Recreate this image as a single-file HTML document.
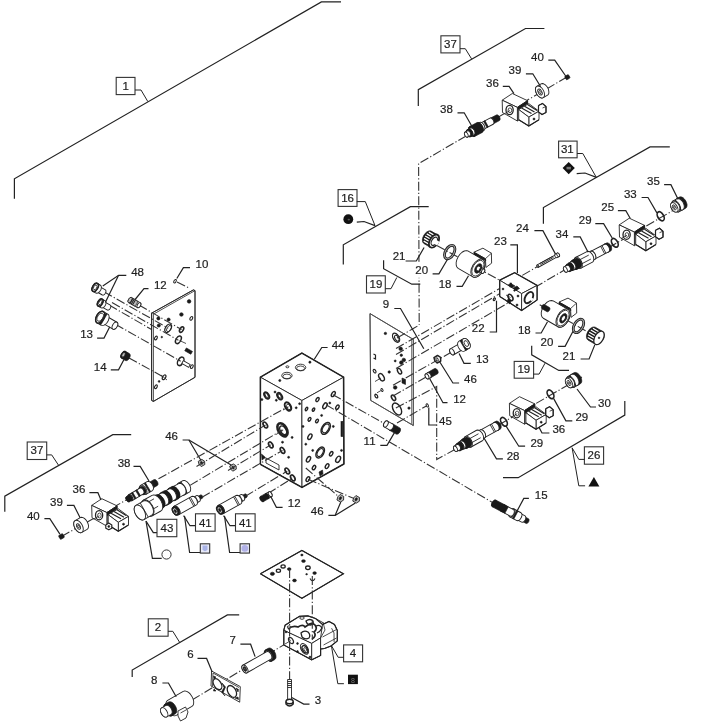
<!DOCTYPE html>
<html><head><meta charset="utf-8">
<style>
html,body{margin:0;padding:0;background:#fff;width:709px;height:728px;overflow:hidden}
svg{display:block;will-change:transform}
.l{fill:none;stroke:#222;stroke-width:1.2;stroke-linejoin:miter}
.b{fill:#fff;stroke:#333;stroke-width:1.1}
.d{fill:none;stroke:#333;stroke-width:1.1;stroke-dasharray:9 2.2 1.2 2.2}
.t{font-family:"Liberation Sans",sans-serif;font-size:11.5px;fill:#1e1e1e;stroke:#1e1e1e;stroke-width:0.2;text-anchor:middle}
.p{fill:#fff;stroke:#222;stroke-width:0.9;stroke-linejoin:round}
.g{fill:#bbb;stroke:#222;stroke-width:0.8}
.k{fill:#1a1a1a;stroke:#1a1a1a;stroke-width:0.6}
.n{fill:none;stroke:#222;stroke-width:0.8}
</style></head><body>
<svg width="709" height="728" viewBox="0 0 709 728">
<polyline class="d" points="567,77 418.6,163.7 419.2,325.1"/>
<polyline class="d" points="109.1,305.1 151.6,329.5"/>
<polyline class="d" points="61.5,536.5 128,499"/>
<polyline class="d" points="608.4,247.8 686,203"/>
<polyline class="d" points="436.8,245.4 500.3,280.6"/>
<polyline class="d" points="539.7,304.7 600,339"/>
<polyline class="d" points="498.2,425.2 582,377"/>
<polyline class="d" points="192,700 291,640.5"/>
<rect x="119.6" y="77.9" width="12.4" height="16" fill="#fff"/><rect x="441.1" y="35.8" width="18.8" height="16" fill="#fff"/><rect x="338.2" y="189.7" width="18.8" height="16" fill="#fff"/><rect x="557.9" y="140.9" width="18.8" height="16" fill="#fff"/><rect x="366.6" y="275.3" width="18.8" height="16" fill="#fff"/><rect x="514.4" y="361" width="18.8" height="16" fill="#fff"/><rect x="584.5" y="447" width="18.8" height="16" fill="#fff"/><rect x="27.5" y="442" width="18.8" height="16" fill="#fff"/><rect x="157.5" y="520" width="18.8" height="16" fill="#fff"/><rect x="195.9" y="514.5" width="18.8" height="16" fill="#fff"/><rect x="235.9" y="514.5" width="18.8" height="16" fill="#fff"/><rect x="151.8" y="619" width="12.4" height="16" fill="#fff"/><rect x="346.7" y="644.9" width="12.4" height="16" fill="#fff"/><rect x="528" y="48.3" width="18.8" height="16" fill="#fff"/><rect x="505.6" y="61.7" width="18.8" height="16" fill="#fff"/><rect x="483.1" y="74.3" width="18.8" height="16" fill="#fff"/><rect x="437.1" y="100.6" width="18.8" height="16" fill="#fff"/><rect x="644" y="172.5" width="18.8" height="16" fill="#fff"/><rect x="620.9" y="185.2" width="18.8" height="16" fill="#fff"/><rect x="598.3" y="198.4" width="18.8" height="16" fill="#fff"/><rect x="575.8" y="212" width="18.8" height="16" fill="#fff"/><rect x="513.1" y="219.9" width="18.8" height="16" fill="#fff"/><rect x="552.6" y="225.2" width="18.8" height="16" fill="#fff"/><rect x="491" y="232.7" width="18.8" height="16" fill="#fff"/><rect x="389.7" y="247.7" width="18.8" height="16" fill="#fff"/><rect x="412.3" y="261.8" width="18.8" height="16" fill="#fff"/><rect x="435.7" y="275.4" width="18.8" height="16" fill="#fff"/><rect x="468.8" y="319.5" width="18.8" height="16" fill="#fff"/><rect x="514.9" y="321.5" width="18.8" height="16" fill="#fff"/><rect x="537.6" y="334" width="18.8" height="16" fill="#fff"/><rect x="559.6" y="347.6" width="18.8" height="16" fill="#fff"/><rect x="472.9" y="351" width="18.8" height="16" fill="#fff"/><rect x="461.1" y="370.3" width="18.8" height="16" fill="#fff"/><rect x="450.2" y="390.5" width="18.8" height="16" fill="#fff"/><rect x="436" y="412.6" width="18.8" height="16" fill="#fff"/><rect x="595.1" y="394.9" width="18.8" height="16" fill="#fff"/><rect x="572.4" y="408.5" width="18.8" height="16" fill="#fff"/><rect x="549.4" y="421" width="18.8" height="16" fill="#fff"/><rect x="527.4" y="434.6" width="18.8" height="16" fill="#fff"/><rect x="503.7" y="447.4" width="18.8" height="16" fill="#fff"/><rect x="531.8" y="486.4" width="18.8" height="16" fill="#fff"/><rect x="379.8" y="296.1" width="12.4" height="16" fill="#fff"/><rect x="328.7" y="336.2" width="18.8" height="16" fill="#fff"/><rect x="360.2" y="432.7" width="18.8" height="16" fill="#fff"/><rect x="128.2" y="263.7" width="18.8" height="16" fill="#fff"/><rect x="192.6" y="255.3" width="18.8" height="16" fill="#fff"/><rect x="150.9" y="276.4" width="18.8" height="16" fill="#fff"/><rect x="77.2" y="325.3" width="18.8" height="16" fill="#fff"/><rect x="90.8" y="358.3" width="18.8" height="16" fill="#fff"/><rect x="162.2" y="427.8" width="18.8" height="16" fill="#fff"/><rect x="114.7" y="454.6" width="18.8" height="16" fill="#fff"/><rect x="69.6" y="480.8" width="18.8" height="16" fill="#fff"/><rect x="47" y="494.1" width="18.8" height="16" fill="#fff"/><rect x="23.9" y="507.6" width="18.8" height="16" fill="#fff"/><rect x="284.8" y="494.8" width="18.8" height="16" fill="#fff"/><rect x="307.8" y="503" width="18.8" height="16" fill="#fff"/><rect x="226.4" y="631.4" width="12.4" height="16" fill="#fff"/><rect x="184.2" y="646.1" width="12.4" height="16" fill="#fff"/><rect x="147.9" y="671.8" width="12.4" height="16" fill="#fff"/><rect x="311.8" y="691.9" width="12.4" height="16" fill="#fff"/><g transform="translate(567.4 77.2) rotate(-30)"><rect class="k" x="-2.2" y="-2" width="4.4" height="4" rx="1"/></g>
<polyline class="l" points="548.3,60.1 554.7,60.1 565.7,76"/>
<g transform="translate(540 92) rotate(-30)"><path class="p" d="M5,-6.5 L6.2,-6.2 L7.2,-5.3 L8,-3.8 L8.6,-2 L8.8,0 L8.6,2 L8,3.8 L7.2,5.3 L6.2,6.2 L5,6.5 L0,6.5 L-1.2,6.2 L-2.2,5.3 L-3,3.8 L-3.6,2 L-3.8,0 L-3.6,-2 L-3,-3.8 L-2.2,-5.3 L-1.2,-6.2 L-0,-6.5Z"/><ellipse class="p" cx="0" cy="0" rx="3.8" ry="6.5"/><ellipse class="p" cx="0" cy="0" rx="1.8" ry="3.2"/><ellipse class="n" cx="0" cy="0" rx="0.9" ry="1.6"/></g>
<polyline class="l" points="525.9,73.8 532.8,73.8 540.7,86.7"/>
<g transform="translate(466.3 134.6) rotate(-28)"><path class="k" d="M35.8,-3.2 L36.4,-3 L36.9,-2.6 L37.3,-1.9 L37.6,-1 L37.6,0 L37.6,1 L37.3,1.9 L36.9,2.6 L36.4,3 L35.8,3.2 L28.6,3.2 L28,3 L27.5,2.6 L27.1,1.9 L26.8,1 L26.8,0 L26.8,-1 L27.1,-1.9 L27.5,-2.6 L28,-3 L28.6,-3.2Z"/><ellipse class="k" cx="28.6" cy="0" rx="1.8" ry="3.2"/><path class="p" d="M28.6,-3.5 L29.2,-3.3 L29.8,-2.8 L30.2,-2.1 L30.5,-1.1 L30.6,0 L30.5,1.1 L30.2,2.1 L29.8,2.8 L29.2,3.3 L28.6,3.5 L17.5,3.5 L16.9,3.3 L16.3,2.8 L15.9,2.1 L15.6,1.1 L15.5,0 L15.6,-1.1 L15.9,-2.1 L16.3,-2.8 L16.9,-3.3 L17.5,-3.5Z"/><ellipse class="p" cx="17.5" cy="0" rx="2" ry="3.5"/><rect class="k" x="21.5" y="-3.5" width="1.6" height="7"/><path class="p" d="M17.5,-4.6 L18.3,-4.4 L19.1,-3.7 L19.6,-2.7 L20,-1.4 L20.2,0 L20,1.4 L19.6,2.7 L19.1,3.7 L18.3,4.4 L17.5,4.6 L15.1,4.6 L14.3,4.4 L13.5,3.7 L13,2.7 L12.6,1.4 L12.4,0 L12.6,-1.4 L13,-2.7 L13.5,-3.7 L14.3,-4.4 L15.1,-4.6Z"/><ellipse class="p" cx="15.1" cy="0" rx="2.7" ry="4.6"/><path class="k" d="M15.1,-5.6 L16.1,-5.3 L17,-4.5 L17.7,-3.3 L18.2,-1.7 L18.3,0 L18.2,1.7 L17.7,3.3 L17,4.5 L16.1,5.3 L15.1,5.6 L6.8,5.6 L5.8,5.3 L4.9,4.5 L4.2,3.3 L3.7,1.7 L3.6,0 L3.7,-1.7 L4.2,-3.3 L4.9,-4.5 L5.8,-5.3 L6.8,-5.6Z"/><ellipse class="k" cx="6.8" cy="0" rx="3.2" ry="5.6"/><path class="p" d="M6.8,-3.9 L7.5,-3.7 L8.1,-3.2 L8.6,-2.3 L8.9,-1.2 L9.1,0 L8.9,1.2 L8.6,2.3 L8.1,3.2 L7.5,3.7 L6.8,3.9 L4.4,3.9 L3.7,3.7 L3.1,3.2 L2.6,2.3 L2.3,1.2 L2.1,0 L2.3,-1.2 L2.6,-2.3 L3.1,-3.2 L3.7,-3.7 L4.4,-3.9Z"/><ellipse class="p" cx="4.4" cy="0" rx="2.3" ry="3.9"/><path class="k" d="M4.4,-3.9 L5.1,-3.7 L5.7,-3.2 L6.2,-2.3 L6.5,-1.2 L6.7,0 L6.5,1.2 L6.2,2.3 L5.7,3.2 L5.1,3.7 L4.4,3.9 L2.8,3.9 L2.1,3.7 L1.5,3.2 L1,2.3 L0.7,1.2 L0.5,0 L0.7,-1.2 L1,-2.3 L1.5,-3.2 L2.1,-3.7 L2.8,-3.9Z"/><ellipse class="k" cx="2.8" cy="0" rx="2.3" ry="3.9"/><path class="p" d="M2.8,-2.8 L3.3,-2.7 L3.7,-2.3 L4.1,-1.6 L4.3,-0.9 L4.4,0 L4.3,0.9 L4.1,1.6 L3.7,2.3 L3.3,2.7 L2.8,2.8 L0,2.8 L-0.5,2.7 L-0.9,2.3 L-1.3,1.6 L-1.5,0.9 L-1.6,0 L-1.5,-0.9 L-1.3,-1.6 L-0.9,-2.3 L-0.5,-2.7 L-0,-2.8Z"/><ellipse class="p" cx="0" cy="0" rx="1.6" ry="2.8"/></g>
<polyline class="l" points="457.5,112.8 464.2,112.8 471.9,126.2"/>
<polygon class="p" points="502.2,100.2 512.3,93.5 527.6,100.7 517.4,107.4"/>
<polygon class="g" points="517.4,107.4 527.6,100.7 527.6,114 517.4,121"/>
<polygon class="k" points="517.4,107.4 527.6,100.7 527.6,103.5 517.4,110.5"/>
<polygon class="p" points="502.2,100.2 517.4,107.4 517.4,121 502.5,112.5"/>
<ellipse class="p" cx="509.6" cy="110" rx="3.6" ry="4.6" style="stroke-width:1.3"/>
<ellipse class="n" cx="509.9" cy="110.3" rx="1.8" ry="2.4"/>
<polyline class="n" points="510,110.5 504,114"/>
<polygon class="p" points="518.7,109.5 528.8,103.6 539,111.2 528.8,117.1"/>
<polyline class="l" points="521.5,108 531.5,113.5"/>
<polyline class="l" points="524.5,106.2 534.5,112"/>
<polyline class="l" points="527.5,104.6 537,110.5"/>
<polygon class="p" points="528.8,117.1 539,111.2 539,119.7 528.8,126"/>
<polygon class="p" points="518.7,109.5 528.8,117.1 528.8,126 518.7,119.7"/>
<polyline class="l" points="518.7,119.7 528.8,126 539,119.7"/>
<circle class="k" cx="534" cy="119" r="1"/>
<polygon class="p" points="538.5,105.5 542.5,103.5 546,106.5 546,112.5 542,114.5 538.5,112"/>
<polyline class="l" points="538.5,105.5 542.5,103.5 546,106.5 546,112.5 542,114.5 538.5,112 538.5,105.5"/>
<polyline class="n" points="542.5,108 546,106.5"/>
<polyline class="l" points="502.8,86.3 509.1,86.3 514,93.6"/>
<polygon class="p" points="301.9,353 343.6,377.2 301.9,400.5 260.4,377.2"/>
<polygon class="p" points="260.4,377.2 301.9,400.5 302,487.3 260.5,464.3"/>
<polygon class="p" points="301.9,400.5 343.6,377.2 343.9,464 302,487.3"/>
<polyline class="l" points="260.4,464.3 260.4,377.2 301.9,353 343.6,377.2 343.9,464 302,487.3 260.4,464.3" style="stroke-width:1.5"/>
<ellipse class="p" cx="300.6" cy="367.5" rx="5.2" ry="3.3"/>
<ellipse class="n" cx="300.6" cy="368.3" rx="4" ry="2.3"/>
<ellipse class="p" cx="286.9" cy="375.6" rx="5.2" ry="3.3"/>
<ellipse class="n" cx="286.9" cy="376.4" rx="4" ry="2.3"/>
<ellipse class="p" cx="287.4" cy="366.8" rx="1.5" ry="1"/>
<circle class="k" cx="309.9" cy="362.2" r="1.1"/>
<circle class="k" cx="279.8" cy="380.5" r="1.1"/>
<ellipse class="p" cx="0" cy="0" rx="2.1" ry="3.6" transform="translate(266.7 395.5) rotate(-30)" style="stroke-width:1.9"/>
<ellipse class="n" cx="0" cy="0" rx="1.2" ry="2.2" transform="translate(266.7 395.5) rotate(-30)"/>
<ellipse class="p" cx="0" cy="0" rx="2.1" ry="3.6" transform="translate(279.7 396.2) rotate(-30)" style="stroke-width:1.9"/>
<ellipse class="n" cx="0" cy="0" rx="1.2" ry="2.2" transform="translate(279.7 396.2) rotate(-30)"/>
<ellipse class="p" cx="0" cy="0" rx="2.7" ry="4.6" transform="translate(288 406.5) rotate(-30)" style="stroke-width:2.0"/>
<ellipse class="n" cx="0" cy="0" rx="1.7" ry="3" transform="translate(288.6 406.9) rotate(-30)"/>
<polyline class="n" points="288.6,406.9 283,410"/>
<ellipse class="p" cx="0" cy="0" rx="4.2" ry="7.2" transform="translate(282.5 429.8) rotate(-30)" style="stroke-width:2.6"/>
<ellipse class="n" cx="0" cy="0" rx="2.8" ry="4.8" transform="translate(283.2 430.3) rotate(-30)" style="stroke-width:1.4"/>
<polyline class="n" points="283.2,430.3 276,434.5"/>
<ellipse class="p" cx="0" cy="0" rx="1.8" ry="3.2" transform="translate(265.3 425) rotate(-30)" style="stroke-width:1.7"/>
<ellipse class="p" cx="0" cy="0" rx="1.8" ry="3.2" transform="translate(270.8 444.9) rotate(-30)" style="stroke-width:1.7"/>
<ellipse class="p" cx="0" cy="0" rx="1.8" ry="3.2" transform="translate(282.5 450.4) rotate(-30)" style="stroke-width:1.7"/>
<ellipse class="p" cx="0" cy="0" rx="1.8" ry="3.2" transform="translate(287.3 471) rotate(-30)" style="stroke-width:1.7"/>
<ellipse class="p" cx="0" cy="0" rx="1.8" ry="3.2" transform="translate(292.8 477.9) rotate(-30)" style="stroke-width:1.7"/>
<polygon class="k" points="261.5,454 265.5,457.5 262,460"/>
<polygon class="p" points="266,458 279,465 279,470 266,463"/>
<circle class="k" cx="276.3" cy="400.3" r="1"/>
<circle class="k" cx="296.2" cy="407.8" r="1"/>
<circle class="k" cx="299.6" cy="403.7" r="1"/>
<circle class="k" cx="292.1" cy="437.4" r="1"/>
<circle class="k" cx="282.5" cy="442.2" r="1"/>
<circle class="k" cx="288.6" cy="457.3" r="1"/>
<circle class="k" cx="261.9" cy="399.6" r="1"/>
<circle class="k" cx="275" cy="392" r="1"/>
<ellipse class="p" cx="0" cy="0" rx="1.6" ry="2.8" transform="translate(333.3 394.1) rotate(30)" style="stroke-width:1.4"/>
<ellipse class="p" cx="0" cy="0" rx="1.8" ry="3.2" transform="translate(325 405.8) rotate(30)" style="stroke-width:1.4"/>
<ellipse class="p" cx="0" cy="0" rx="1.4" ry="2.4" transform="translate(337.4 407.2) rotate(30)" style="stroke-width:1.4"/>
<ellipse class="p" cx="0" cy="0" rx="1.3" ry="2.2" transform="translate(317.5 399.6) rotate(30)" style="stroke-width:1.4"/>
<ellipse class="p" cx="0" cy="0" rx="1" ry="1.8" transform="translate(306.5 409) rotate(30)" style="stroke-width:1.4"/>
<ellipse class="p" cx="0" cy="0" rx="1" ry="1.8" transform="translate(313.5 409.6) rotate(30)" style="stroke-width:1.4"/>
<ellipse class="p" cx="0" cy="0" rx="1.2" ry="2" transform="translate(309.5 419.3) rotate(30)" style="stroke-width:1.4"/>
<ellipse class="p" cx="0" cy="0" rx="1.2" ry="2" transform="translate(317 421) rotate(30)" style="stroke-width:1.4"/>
<ellipse class="p" cx="0" cy="0" rx="1.7" ry="3" transform="translate(309.9 436.7) rotate(30)" style="stroke-width:1.4"/>
<ellipse class="p" cx="0" cy="0" rx="1.4" ry="2.4" transform="translate(331.2 453.8) rotate(30)" style="stroke-width:1.4"/>
<ellipse class="p" cx="0" cy="0" rx="2" ry="3.4" transform="translate(338.1 459.3) rotate(30)" style="stroke-width:1.4"/>
<ellipse class="p" cx="0" cy="0" rx="1.5" ry="2.6" transform="translate(327.1 466.2) rotate(30)" style="stroke-width:1.4"/>
<ellipse class="p" cx="0" cy="0" rx="1.7" ry="3" transform="translate(308.5 459.3) rotate(30)" style="stroke-width:1.4"/>
<ellipse class="p" cx="0" cy="0" rx="1.4" ry="2.4" transform="translate(314 467.6) rotate(30)" style="stroke-width:1.4"/>
<ellipse class="p" cx="0" cy="0" rx="1.5" ry="2.6" transform="translate(307.9 479.2) rotate(30)" style="stroke-width:1.4"/>
<ellipse class="p" cx="0" cy="0" rx="3.8" ry="6.5" transform="translate(325.7 428.4) rotate(30)" style="stroke-width:1.5"/>
<ellipse class="n" cx="0" cy="0" rx="2.8" ry="4.8" transform="translate(325.7 428.4) rotate(30)" style="stroke-width:1.1"/>
<ellipse class="p" cx="0" cy="0" rx="3.5" ry="6" transform="translate(320.2 452.5) rotate(30)" style="stroke-width:1.5"/>
<ellipse class="n" cx="0" cy="0" rx="2.5" ry="4.4" transform="translate(320.2 452.5) rotate(30)" style="stroke-width:1.1"/>
<rect class="k" x="341" y="421.6" width="1.8" height="15"/>
<polygon class="k" points="319,472 322.5,470 323,474 320,476"/>
<circle class="k" cx="305.8" cy="444.2" r="1"/>
<circle class="k" cx="312.7" cy="450.4" r="1"/>
<circle class="k" cx="321.6" cy="415.4" r="1"/>
<circle class="k" cx="333.3" cy="426.4" r="1"/>
<circle class="k" cx="329.8" cy="403" r="1"/>
<circle class="k" cx="341.5" cy="450.4" r="1"/>
<circle class="k" cx="303" cy="426.4" r="1"/>
<polygon class="p" points="151.6,313.2 193.4,289.9 195,290.6 195,377.3 153.4,401.4 151.6,400.4"/>
<polyline class="n" points="153.4,314.2 195,290.6"/>
<polyline class="n" points="153.4,314.2 153.4,401.4"/>
<polyline class="n" points="151.6,313.2 193.4,289.9 195,290.6 195,377.3 153.4,401.4 151.6,400.4 151.6,313.2"/>
<circle class="k" cx="189.1" cy="301.4" r="1.8"/>
<circle class="k" cx="181.4" cy="314.5" r="1.8"/>
<circle class="k" cx="158.4" cy="318.4" r="1.6"/>
<circle class="k" cx="168.6" cy="319.6" r="1.6"/>
<circle class="k" cx="158.8" cy="325.5" r="1.6"/>
<circle class="k" cx="161.8" cy="337.1" r="0.8"/>
<circle class="k" cx="159.1" cy="381.4" r="0.9"/>
<ellipse class="p" cx="0" cy="0" rx="2.7" ry="4.6" transform="translate(168.2 328.2) rotate(30)" style="stroke-width:1.2"/>
<ellipse class="n" cx="0" cy="0" rx="2" ry="3.4" transform="translate(169 328.6) rotate(30)"/>
<ellipse class="p" cx="0" cy="0" rx="1.7" ry="3" transform="translate(181.6 329.6) rotate(30)" style="stroke-width:1.6"/>
<ellipse class="p" cx="0" cy="0" rx="2.4" ry="4.2" transform="translate(178.4 339.8) rotate(30)" style="stroke-width:1.4"/>
<polyline class="n" points="179.5,340.5 186,343.5"/>
<ellipse class="p" cx="0" cy="0" rx="1.2" ry="2" transform="translate(191.3 318.4) rotate(30)" style="stroke-width:1.1"/>
<ellipse class="p" cx="0" cy="0" rx="1.2" ry="2" transform="translate(155.9 338) rotate(30)" style="stroke-width:1.1"/>
<g transform="translate(188.6 351.1) rotate(30)"><rect class="k" x="-3.5" y="-1.6" width="7" height="3.2"/></g>
<ellipse class="p" cx="0" cy="0" rx="2.7" ry="4.6" transform="translate(180.7 361.3) rotate(30)" style="stroke-width:1.5"/>
<g transform="translate(186 364) rotate(30)"><rect class="p" x="-4" y="-1.6" width="8" height="3.2"/></g>
<ellipse class="p" cx="0" cy="0" rx="1.2" ry="2" transform="translate(191.8 366.6) rotate(30)" style="stroke-width:1.1"/>
<ellipse class="p" cx="0" cy="0" rx="1.5" ry="2.6" transform="translate(164.1 377.3) rotate(30)" style="stroke-width:1.2"/>
<polyline class="n" points="161,375 167,380"/>
<ellipse class="p" cx="0" cy="0" rx="1.2" ry="2" transform="translate(155.9 386.8) rotate(30)" style="stroke-width:1.1"/>
<polygon class="p" points="370,313.6 411.6,338.4 413.3,339.4 413.3,425.5 411.6,424.5 370.7,400.4"/>
<polyline class="n" points="411.6,338.4 411.6,424.5" style="stroke:#555"/>
<polyline class="n" points="370,313.6 411.6,338.4 413.3,339.4 413.3,425.5 411.6,424.5 370.7,400.4 370,313.6" style="stroke:#555"/>
<circle class="k" cx="385.4" cy="333.4" r="1.2"/>
<circle class="k" cx="400.7" cy="348.8" r="1.8"/>
<circle class="k" cx="401.3" cy="355.2" r="1.2"/>
<circle class="k" cx="395.2" cy="360.9" r="1"/>
<circle class="k" cx="401.3" cy="362.6" r="1.8"/>
<circle class="k" cx="403.8" cy="360" r="1.8"/>
<circle class="k" cx="389.2" cy="372" r="1.2"/>
<circle class="k" cx="395.2" cy="387.5" r="1.8"/>
<circle class="k" cx="409" cy="408.1" r="1.2"/>
<ellipse class="p" cx="0" cy="0" rx="2.9" ry="5" transform="translate(396.1 337.7) rotate(-30)" style="stroke-width:1.3"/>
<ellipse class="p" cx="0" cy="0" rx="1.8" ry="3.2" transform="translate(396.8 338.2) rotate(-30)" style="stroke-width:1.0"/>
<polyline class="l" points="373.5,354 375.5,355 375.5,359 373.5,358"/>
<ellipse class="p" cx="0" cy="0" rx="1.2" ry="2" transform="translate(374.6 371.2) rotate(-30)" style="stroke-width:1.1"/>
<ellipse class="p" cx="0" cy="0" rx="1.7" ry="3" transform="translate(399.5 371.2) rotate(-30)" style="stroke-width:1.4"/>
<ellipse class="p" cx="0" cy="0" rx="2.3" ry="4" transform="translate(381.5 377.2) rotate(-30)" style="stroke-width:1.4"/>
<polyline class="n" points="381,378 375,381.5"/>
<polygon class="k" points="402,378 405.5,379.5 405.5,384.5 402,383"/>
<polyline class="n" points="381.8,390.1 377,392.8"/>
<ellipse class="p" cx="0" cy="0" rx="0.9" ry="1.6" transform="translate(382 390) rotate(-30)"/>
<ellipse class="p" cx="0" cy="0" rx="1.2" ry="2" transform="translate(376.3 396.1) rotate(-30)" style="stroke-width:1.3"/>
<ellipse class="p" cx="0" cy="0" rx="1.7" ry="3" transform="translate(393.5 397.8) rotate(-30)" style="stroke-width:1.6"/>
<ellipse class="p" cx="0" cy="0" rx="3.8" ry="6.6" transform="translate(397 409) rotate(-30)" style="stroke-width:1.4"/>
<polyline class="d" points="104,291.8 168.2,328.2"/>
<polyline class="d" points="112,302.5 178.4,340.3"/>
<polyline class="d" points="139,305.1 181.6,329.6"/>
<polyline class="d" points="115.5,324.2 180.7,361.3"/>
<polyline class="d" points="129,358 164.1,377.3"/>
<polyline class="d" points="177,282 190,288.5"/>
<g transform="translate(95.2 287.4) rotate(30)"><path class="p" d="M10,-3 L10.5,-2.9 L11,-2.4 L11.4,-1.8 L11.6,-0.9 L11.7,0 L11.6,0.9 L11.4,1.8 L11,2.4 L10.5,2.9 L10,3 L3,3 L2.5,2.9 L2,2.4 L1.6,1.8 L1.4,0.9 L1.3,0 L1.4,-0.9 L1.6,-1.8 L2,-2.4 L2.5,-2.9 L3,-3Z"/><ellipse class="p" cx="3" cy="0" rx="1.7" ry="3"/><path class="p" d="M3.5,-4.5 L4.3,-4.3 L5,-3.6 L5.6,-2.6 L6,-1.4 L6.1,0 L6,1.4 L5.6,2.6 L5,3.6 L4.3,4.3 L3.5,4.5 L0,4.5 L-0.8,4.3 L-1.5,3.6 L-2.1,2.6 L-2.5,1.4 L-2.6,0 L-2.5,-1.4 L-2.1,-2.6 L-1.5,-3.6 L-0.8,-4.3 L-0,-4.5Z"/><ellipse class="p" cx="0" cy="0" rx="2.6" ry="4.5"/><ellipse class="n" cx="0" cy="0" rx="2.6" ry="4.5" style="stroke-width:1.6"/><ellipse class="n" cx="0" cy="0" rx="1.5" ry="2.6"/></g>
<g transform="translate(100.2 302.6) rotate(30)"><path class="p" d="M10,-2.8 L10.5,-2.7 L10.9,-2.3 L11.3,-1.6 L11.5,-0.9 L11.6,0 L11.5,0.9 L11.3,1.6 L10.9,2.3 L10.5,2.7 L10,2.8 L3,2.8 L2.5,2.7 L2.1,2.3 L1.7,1.6 L1.5,0.9 L1.4,0 L1.5,-0.9 L1.7,-1.6 L2.1,-2.3 L2.5,-2.7 L3,-2.8Z"/><ellipse class="p" cx="3" cy="0" rx="1.6" ry="2.8"/><path class="p" d="M3.5,-4 L4.2,-3.8 L4.9,-3.2 L5.4,-2.4 L5.7,-1.2 L5.8,0 L5.7,1.2 L5.4,2.4 L4.9,3.2 L4.2,3.8 L3.5,4 L0,4 L-0.7,3.8 L-1.4,3.2 L-1.9,2.4 L-2.2,1.2 L-2.3,0 L-2.2,-1.2 L-1.9,-2.4 L-1.4,-3.2 L-0.7,-3.8 L-0,-4Z"/><ellipse class="p" cx="0" cy="0" rx="2.3" ry="4"/><ellipse class="n" cx="0" cy="0" rx="2.3" ry="4" style="stroke-width:1.6"/><ellipse class="n" cx="0" cy="0" rx="1.3" ry="2.3"/></g>
<polyline class="l" points="126.3,275.3 118.6,275.3 102.8,286.1"/>
<polyline class="l" points="118.6,275.3 105.3,302.6"/>
<g transform="translate(100.2 317.2) rotate(30)"><path class="p" d="M17,-4 L17.7,-3.8 L18.4,-3.2 L18.9,-2.4 L19.2,-1.2 L19.3,0 L19.2,1.2 L18.9,2.4 L18.4,3.2 L17.7,3.8 L17,4 L5,4 L4.3,3.8 L3.6,3.2 L3.1,2.4 L2.8,1.2 L2.7,0 L2.8,-1.2 L3.1,-2.4 L3.6,-3.2 L4.3,-3.8 L5,-4Z"/><path class="p" d="M5,-6.5 L6.2,-6.2 L7.2,-5.3 L8,-3.8 L8.6,-2 L8.8,0 L8.6,2 L8,3.8 L7.2,5.3 L6.2,6.2 L5,6.5 L0,6.5 L-1.2,6.2 L-2.2,5.3 L-3,3.8 L-3.6,2 L-3.8,0 L-3.6,-2 L-3,-3.8 L-2.2,-5.3 L-1.2,-6.2 L-0,-6.5Z"/><ellipse class="p" cx="0" cy="0" rx="3.8" ry="6.5"/><path class="k" d="M2.8,-6.2 L4.4,-6.2 L4.4,6.2 L2.8,6.2Z"/><ellipse class="n" cx="0" cy="0" rx="3.75" ry="6.5" style="stroke-width:1.5"/><ellipse class="n" cx="0" cy="0" rx="2.6" ry="4.5"/><ellipse class="p" cx="17" cy="0" rx="2.3" ry="4"/></g>
<polyline class="l" points="97.1,338.1 104,338.1 109.8,326.7"/>
<g transform="translate(130.1 300.1) rotate(30)"><path class="p" d="M10.2,-2.8 L10.7,-2.7 L11.1,-2.3 L11.5,-1.6 L11.7,-0.9 L11.8,0 L11.7,0.9 L11.5,1.6 L11.1,2.3 L10.7,2.7 L10.2,2.8 L6,2.8 L5.5,2.7 L5.1,2.3 L4.7,1.6 L4.5,0.9 L4.4,0 L4.5,-0.9 L4.7,-1.6 L5.1,-2.3 L5.5,-2.7 L6,-2.8Z"/><ellipse class="p" cx="10.2" cy="0" rx="1.6" ry="2.8"/><path class="g" d="M6,-3 L6.5,-2.9 L7,-2.4 L7.4,-1.8 L7.6,-0.9 L7.7,0 L7.6,0.9 L7.4,1.8 L7,2.4 L6.5,2.9 L6,3 L0,3 L-0.5,2.9 L-1,2.4 L-1.4,1.8 L-1.6,0.9 L-1.7,0 L-1.6,-0.9 L-1.4,-1.8 L-1,-2.4 L-0.5,-2.9 L-0,-3Z"/><ellipse class="g" cx="0" cy="0" rx="1.7" ry="3"/><path class="n" d="M1.5,-3 L1.5,3 M3,-3 L3,3 M4.5,-3 L4.5,3" style="stroke-width:1"/></g>
<polyline class="l" points="148.5,288.6 144,288.6 135.1,299.5"/>
<g transform="translate(123.5 354.8) rotate(30)"><path class="k" d="M4.5,-4 L5.2,-3.8 L5.9,-3.2 L6.4,-2.4 L6.7,-1.2 L6.8,0 L6.7,1.2 L6.4,2.4 L5.9,3.2 L5.2,3.8 L4.5,4 L0,4 L-0.7,3.8 L-1.4,3.2 L-1.9,2.4 L-2.2,1.2 L-2.3,0 L-2.2,-1.2 L-1.9,-2.4 L-1.4,-3.2 L-0.7,-3.8 L-0,-4Z"/><ellipse class="k" cx="0" cy="0" rx="2.3" ry="4"/><ellipse class="g" cx="0" cy="0" rx="1.4" ry="2.5"/></g>
<polyline class="l" points="110.8,369.9 118.5,369.9 124,359.5"/>
<ellipse class="p" cx="0" cy="0" rx="1.1" ry="1.9" transform="translate(175 281.2) rotate(30)" style="stroke-width:1.0"/>
<polyline class="l" points="190,267.6 183.4,267.6 176.8,278.5"/>
<g transform="translate(61.5 536.5) rotate(-30)"><rect class="k" x="-2.4" y="-2.2" width="4.8" height="4.4" rx="1"/></g>
<polyline class="l" points="44.4,518.6 49.8,518.6 59.9,534.1"/>
<g transform="translate(78.5 526.5) rotate(-30)"><path class="p" d="M6,-6.8 L7.2,-6.5 L8.3,-5.5 L9.2,-4 L9.7,-2.1 L9.9,0 L9.7,2.1 L9.2,4 L8.3,5.5 L7.2,6.5 L6,6.8 L0,6.8 L-1.2,6.5 L-2.3,5.5 L-3.2,4 L-3.7,2.1 L-3.9,0 L-3.7,-2.1 L-3.2,-4 L-2.3,-5.5 L-1.2,-6.5 L-0,-6.8Z"/><ellipse class="p" cx="0" cy="0" rx="3.9" ry="6.8"/><ellipse class="p" cx="0" cy="0" rx="1.7" ry="3"/><ellipse class="n" cx="0" cy="0" rx="0.8" ry="1.4"/></g>
<polyline class="l" points="66.9,505.4 73.9,505.4 80.1,517.8"/>
<polygon class="p" points="91.7,505.4 101.8,498.7 117.1,505.9 106.9,512.6"/>
<polygon class="g" points="106.9,512.6 117.1,505.9 117.1,519.2 106.9,526.2"/>
<polygon class="k" points="106.9,512.6 117.1,505.9 117.1,508.7 106.9,515.7"/>
<polygon class="p" points="91.7,505.4 106.9,512.6 106.9,526.2 92,517.7"/>
<ellipse class="p" cx="99.1" cy="515.2" rx="3.6" ry="4.6" style="stroke-width:1.3"/>
<ellipse class="n" cx="99.4" cy="515.5" rx="1.8" ry="2.4"/>
<polyline class="n" points="99.5,515.7 93.5,519.2"/>
<polygon class="p" points="108.2,514.7 118.3,508.8 128.5,516.4 118.3,522.3"/>
<polyline class="l" points="111,513.2 121,518.7"/>
<polyline class="l" points="114,511.4 124,517.2"/>
<polyline class="l" points="117,509.8 126.5,515.7"/>
<polygon class="p" points="118.3,522.3 128.5,516.4 128.5,524.9 118.3,531.2"/>
<polygon class="p" points="108.2,514.7 118.3,522.3 118.3,531.2 108.2,524.9"/>
<polyline class="l" points="108.2,524.9 118.3,531.2 128.5,524.9"/>
<circle class="k" cx="123.5" cy="524.2" r="1"/>
<g transform="translate(108.8 526.4)"><polygon class="p" points="-3,-1.5 0,-3.4 3,-1.5 3,1.8 0,3.4 -3,1.8" style="stroke-width:1.2"/><circle class="k" r="1"/></g>
<polyline class="l" points="89.4,492.7 97.9,492.7 101,500"/>
<g transform="translate(127.9 499.2) rotate(-31)"><path class="k" d="M32.3,-3.4 L32.9,-3.2 L33.5,-2.8 L33.9,-2 L34.2,-1.1 L34.3,0 L34.2,1.1 L33.9,2 L33.5,2.8 L32.9,3.2 L32.3,3.4 L25.5,3.4 L24.9,3.2 L24.3,2.8 L23.9,2 L23.6,1.1 L23.5,0 L23.6,-1.1 L23.9,-2 L24.3,-2.8 L24.9,-3.2 L25.5,-3.4Z"/><ellipse class="k" cx="25.5" cy="0" rx="2" ry="3.4"/><path class="p" d="M25.5,-5.2 L26.4,-4.9 L27.3,-4.2 L27.9,-3.1 L28.4,-1.6 L28.5,0 L28.4,1.6 L27.9,3.1 L27.3,4.2 L26.4,4.9 L25.5,5.2 L18,5.2 L17.1,4.9 L16.2,4.2 L15.6,3.1 L15.1,1.6 L15,0 L15.1,-1.6 L15.6,-3.1 L16.2,-4.2 L17.1,-4.9 L18,-5.2Z"/><ellipse class="p" cx="18" cy="0" rx="3" ry="5.2"/><rect class="k" x="22" y="-5" width="1.5" height="10"/><path class="k" d="M18,-4.2 L18.7,-4 L19.4,-3.4 L20,-2.5 L20.3,-1.3 L20.4,0 L20.3,1.3 L20,2.5 L19.4,3.4 L18.7,4 L18,4.2 L16,4.2 L15.3,4 L14.6,3.4 L14,2.5 L13.7,1.3 L13.6,0 L13.7,-1.3 L14,-2.5 L14.6,-3.4 L15.3,-4 L16,-4.2Z"/><ellipse class="k" cx="16" cy="0" rx="2.4" ry="4.2"/><path class="p" d="M16,-3.4 L16.6,-3.2 L17.2,-2.8 L17.6,-2 L17.9,-1.1 L18,0 L17.9,1.1 L17.6,2 L17.2,2.8 L16.6,3.2 L16,3.4 L3,3.4 L2.4,3.2 L1.8,2.8 L1.4,2 L1.1,1.1 L1,0 L1.1,-1.1 L1.4,-2 L1.8,-2.8 L2.4,-3.2 L3,-3.4Z"/><ellipse class="p" cx="3" cy="0" rx="2" ry="3.4"/><rect class="k" x="6" y="-3.4" width="1.6" height="6.8"/><rect class="k" x="11" y="-3.4" width="1.6" height="6.8"/><path class="k" d="M3,-3 L3.5,-2.9 L4,-2.4 L4.4,-1.8 L4.6,-0.9 L4.7,0 L4.6,0.9 L4.4,1.8 L4,2.4 L3.5,2.9 L3,3 L0,3 L-0.5,2.9 L-1,2.4 L-1.4,1.8 L-1.6,0.9 L-1.7,0 L-1.6,-0.9 L-1.4,-1.8 L-1,-2.4 L-0.5,-2.9 L-0,-3Z"/><ellipse class="k" cx="0" cy="0" rx="1.7" ry="3"/></g>
<polyline class="l" points="133.5,466.4 140.2,466.4 149,481"/>
<g transform="translate(139.9 512.5) rotate(-29.4)"><path class="p" d="M53,-6.6 L54.2,-6.3 L55.2,-5.3 L56.1,-3.9 L56.6,-2 L56.8,0 L56.6,2 L56.1,3.9 L55.2,5.3 L54.2,6.3 L53,6.6 L48,6.6 L46.8,6.3 L45.8,5.3 L44.9,3.9 L44.4,2 L44.2,0 L44.4,-2 L44.9,-3.9 L45.8,-5.3 L46.8,-6.3 L48,-6.6Z"/><ellipse class="p" cx="48" cy="0" rx="3.8" ry="6.6"/><path class="n" d="M50.5,-6.6 L50.5,6.6" style="stroke-width:1.4"/><path class="p" d="M48,-6.2 L49.1,-5.9 L50.1,-5 L50.9,-3.6 L51.4,-1.9 L51.6,0 L51.4,1.9 L50.9,3.6 L50.1,5 L49.1,5.9 L48,6.2 L40.5,6.2 L39.4,5.9 L38.4,5 L37.6,3.6 L37.1,1.9 L36.9,0 L37.1,-1.9 L37.6,-3.6 L38.4,-5 L39.4,-5.9 L40.5,-6.2Z"/><ellipse class="p" cx="40.5" cy="0" rx="3.6" ry="6.2"/><path class="k" d="M40.5,-6.9 L41.7,-6.6 L42.8,-5.6 L43.7,-4.1 L44.3,-2.1 L44.5,0 L44.3,2.1 L43.7,4.1 L42.8,5.6 L41.7,6.6 L40.5,6.9 L37,6.9 L35.8,6.6 L34.7,5.6 L33.8,4.1 L33.2,2.1 L33,0 L33.2,-2.1 L33.8,-4.1 L34.7,-5.6 L35.8,-6.6 L37,-6.9Z"/><ellipse class="k" cx="37" cy="0" rx="4" ry="6.9"/><path class="p" d="M37,-6.2 L38.1,-5.9 L39.1,-5 L39.9,-3.6 L40.4,-1.9 L40.6,0 L40.4,1.9 L39.9,3.6 L39.1,5 L38.1,5.9 L37,6.2 L31.5,6.2 L30.4,5.9 L29.4,5 L28.6,3.6 L28.1,1.9 L27.9,0 L28.1,-1.9 L28.6,-3.6 L29.4,-5 L30.4,-5.9 L31.5,-6.2Z"/><ellipse class="p" cx="31.5" cy="0" rx="3.6" ry="6.2"/><path class="k" d="M31.5,-7 L32.7,-6.7 L33.9,-5.7 L34.8,-4.1 L35.3,-2.2 L35.5,0 L35.3,2.2 L34.8,4.1 L33.9,5.7 L32.7,6.7 L31.5,7 L28,7 L26.8,6.7 L25.6,5.7 L24.7,4.1 L24.2,2.2 L24,0 L24.2,-2.2 L24.7,-4.1 L25.6,-5.7 L26.8,-6.7 L28,-7Z"/><ellipse class="k" cx="28" cy="0" rx="4" ry="7"/><path class="p" d="M28,-6.4 L29.1,-6.1 L30.2,-5.2 L31,-3.8 L31.5,-2 L31.7,0 L31.5,2 L31,3.8 L30.2,5.2 L29.1,6.1 L28,6.4 L23,6.4 L21.9,6.1 L20.8,5.2 L20,3.8 L19.5,2 L19.3,0 L19.5,-2 L20,-3.8 L20.8,-5.2 L21.9,-6.1 L23,-6.4Z"/><ellipse class="p" cx="23" cy="0" rx="3.7" ry="6.4"/><path class="k" d="M23,-7.4 L24.3,-7 L25.5,-6 L26.5,-4.3 L27.1,-2.3 L27.3,0 L27.1,2.3 L26.5,4.3 L25.5,6 L24.3,7 L23,7.4 L19,7.4 L17.7,7 L16.5,6 L15.5,4.3 L14.9,2.3 L14.7,0 L14.9,-2.3 L15.5,-4.3 L16.5,-6 L17.7,-7 L19,-7.4Z"/><ellipse class="k" cx="19" cy="0" rx="4.3" ry="7.4"/><path class="p" d="M19,-9 L20.6,-8.6 L22.1,-7.3 L23.2,-5.3 L23.9,-2.8 L24.2,0 L23.9,2.8 L23.2,5.3 L22.1,7.3 L20.6,8.6 L19,9 L9,9 L7.4,8.6 L5.9,7.3 L4.8,5.3 L4.1,2.8 L3.8,0 L4.1,-2.8 L4.8,-5.3 L5.9,-7.3 L7.4,-8.6 L9,-9Z"/><ellipse class="p" cx="9" cy="0" rx="5.2" ry="9"/><path class="n" d="M9.5,-5 L19,-5 M9.5,3.5 L19,3.5"/><path class="p" d="M9,-8.2 L10.5,-7.8 L11.8,-6.6 L12.8,-4.8 L13.5,-2.5 L13.7,0 L13.5,2.5 L12.8,4.8 L11.8,6.6 L10.5,7.8 L9,8.2 L0,8.2 L-1.5,7.8 L-2.8,6.6 L-3.8,4.8 L-4.5,2.5 L-4.7,0 L-4.5,-2.5 L-3.8,-4.8 L-2.8,-6.6 L-1.5,-7.8 L-0,-8.2Z"/><ellipse class="p" cx="0" cy="0" rx="4.7" ry="8.2"/><path class="n" d="M5,-8.2 L5,8.2"/></g>
<polyline class="l" points="146,521.1 153.3,532.6 157,532.6"/>
<polyline class="l" points="146,521.1 152.4,558.3 161.7,558.3"/>
<g transform="translate(175.3 511.1) rotate(-29)"><path class="k" d="M30,-1.9 L30.3,-1.8 L30.6,-1.5 L30.9,-1.1 L31,-0.6 L31.1,0 L31,0.6 L30.9,1.1 L30.6,1.5 L30.3,1.8 L30,1.9 L26,1.9 L25.7,1.8 L25.4,1.5 L25.1,1.1 L25,0.6 L24.9,0 L25,-0.6 L25.1,-1.1 L25.4,-1.5 L25.7,-1.8 L26,-1.9Z"/><ellipse class="k" cx="26" cy="0" rx="1.1" ry="1.9"/><path class="p" d="M26,-3.3 L26.6,-3.1 L27.1,-2.7 L27.5,-1.9 L27.8,-1 L27.9,0 L27.8,1 L27.5,1.9 L27.1,2.7 L26.6,3.1 L26,3.3 L21.5,3.3 L20.9,3.1 L20.4,2.7 L20,1.9 L19.7,1 L19.6,0 L19.7,-1 L20,-1.9 L20.4,-2.7 L20.9,-3.1 L21.5,-3.3Z"/><ellipse class="p" cx="21.5" cy="0" rx="1.9" ry="3.3"/><path class="n" d="M23,-3.3 L23,3.3 M24.5,-3.3 L24.5,3.3"/><path class="p" d="M21.5,-4.8 L22.4,-4.6 L23.1,-3.9 L23.7,-2.8 L24.1,-1.5 L24.3,0 L24.1,1.5 L23.7,2.8 L23.1,3.9 L22.4,4.6 L21.5,4.8 L1.5,4.8 L0.6,4.6 L-0.1,3.9 L-0.7,2.8 L-1.1,1.5 L-1.3,0 L-1.1,-1.5 L-0.7,-2.8 L-0.1,-3.9 L0.6,-4.6 L1.5,-4.8Z"/><ellipse class="p" cx="1.5" cy="0" rx="2.8" ry="4.8"/><path class="n" d="M18.5,-4.8 L18.5,4.8 M20,-4.8 L20,4.8"/><path class="k" d="M1.5,-4.6 L2.3,-4.4 L3.1,-3.7 L3.6,-2.7 L4,-1.4 L4.2,0 L4,1.4 L3.6,2.7 L3.1,3.7 L2.3,4.4 L1.5,4.6 L0,4.6 L-0.8,4.4 L-1.6,3.7 L-2.1,2.7 L-2.5,1.4 L-2.7,0 L-2.5,-1.4 L-2.1,-2.7 L-1.6,-3.7 L-0.8,-4.4 L-0,-4.6Z"/><ellipse class="k" cx="0" cy="0" rx="2.7" ry="4.6"/><ellipse class="p" cx="0" cy="0" rx="2" ry="3.4"/><ellipse class="k" cx="0" cy="0" rx="1" ry="1.8"/></g>
<g transform="translate(219.7 510.1) rotate(-29)"><path class="k" d="M30,-1.9 L30.3,-1.8 L30.6,-1.5 L30.9,-1.1 L31,-0.6 L31.1,0 L31,0.6 L30.9,1.1 L30.6,1.5 L30.3,1.8 L30,1.9 L26,1.9 L25.7,1.8 L25.4,1.5 L25.1,1.1 L25,0.6 L24.9,0 L25,-0.6 L25.1,-1.1 L25.4,-1.5 L25.7,-1.8 L26,-1.9Z"/><ellipse class="k" cx="26" cy="0" rx="1.1" ry="1.9"/><path class="p" d="M26,-3.3 L26.6,-3.1 L27.1,-2.7 L27.5,-1.9 L27.8,-1 L27.9,0 L27.8,1 L27.5,1.9 L27.1,2.7 L26.6,3.1 L26,3.3 L21.5,3.3 L20.9,3.1 L20.4,2.7 L20,1.9 L19.7,1 L19.6,0 L19.7,-1 L20,-1.9 L20.4,-2.7 L20.9,-3.1 L21.5,-3.3Z"/><ellipse class="p" cx="21.5" cy="0" rx="1.9" ry="3.3"/><path class="n" d="M23,-3.3 L23,3.3 M24.5,-3.3 L24.5,3.3"/><path class="p" d="M21.5,-4.8 L22.4,-4.6 L23.1,-3.9 L23.7,-2.8 L24.1,-1.5 L24.3,0 L24.1,1.5 L23.7,2.8 L23.1,3.9 L22.4,4.6 L21.5,4.8 L1.5,4.8 L0.6,4.6 L-0.1,3.9 L-0.7,2.8 L-1.1,1.5 L-1.3,0 L-1.1,-1.5 L-0.7,-2.8 L-0.1,-3.9 L0.6,-4.6 L1.5,-4.8Z"/><ellipse class="p" cx="1.5" cy="0" rx="2.8" ry="4.8"/><path class="n" d="M18.5,-4.8 L18.5,4.8 M20,-4.8 L20,4.8"/><path class="k" d="M1.5,-4.6 L2.3,-4.4 L3.1,-3.7 L3.6,-2.7 L4,-1.4 L4.2,0 L4,1.4 L3.6,2.7 L3.1,3.7 L2.3,4.4 L1.5,4.6 L0,4.6 L-0.8,4.4 L-1.6,3.7 L-2.1,2.7 L-2.5,1.4 L-2.7,0 L-2.5,-1.4 L-2.1,-2.7 L-1.6,-3.7 L-0.8,-4.4 L-0,-4.6Z"/><ellipse class="k" cx="0" cy="0" rx="2.7" ry="4.6"/><ellipse class="p" cx="0" cy="0" rx="2" ry="3.4"/><ellipse class="k" cx="0" cy="0" rx="1" ry="1.8"/></g>
<polyline class="l" points="183.6,515.6 190,525.7 195.5,525.7"/>
<polyline class="l" points="184.5,516 189.6,552.5 200.3,552.5"/>
<polyline class="l" points="223.6,515.6 230,525.7 235.5,525.7"/>
<polyline class="l" points="224.5,516 229.6,552.5 240.3,552.5"/>
<g transform="translate(202 462.7) rotate(-30)"><polygon class="g" points="-2.6,-3 1.5,-3 3,0 1.5,3 -2.6,3 -3.4,0"/><ellipse class="k" cx="-0.5" cy="0" rx="0.9" ry="1.5"/></g>
<g transform="translate(233.5 467.3) rotate(-30)"><polygon class="g" points="-2.6,-3 1.5,-3 3,0 1.5,3 -2.6,3 -3.4,0"/><ellipse class="k" cx="-0.5" cy="0" rx="0.9" ry="1.5"/></g>
<polyline class="l" points="182.6,440 188.9,440 201,460.5"/>
<polyline class="l" points="188.9,440 231.5,465.2"/>
<polyline class="d" points="158.5,478.8 287.5,406.9"/>
<polyline class="d" points="196.5,466.5 265.5,425"/>
<polyline class="d" points="190,485.4 282.5,429.8"/>
<polyline class="d" points="228,470.5 270.8,444.9"/>
<polyline class="d" points="202,497.3 282.5,450.4"/>
<polyline class="d" points="245.4,496.3 287.3,471"/>
<polyline class="d" points="268,493.5 292.8,477.9"/>
<polyline class="d" points="332.9,394.7 389.3,426.3"/>
<polyline class="d" points="326.1,404.8 494.2,503.5"/>
<polyline class="d" points="305.8,468 340.8,498.5"/>
<polyline class="d" points="308,479.3 356.6,499.6"/>
<g transform="translate(385.9 424) rotate(30)"><path class="k" d="M14,-3.6 L14.6,-3.4 L15.2,-2.9 L15.7,-2.1 L16,-1.1 L16.1,0 L16,1.1 L15.7,2.1 L15.2,2.9 L14.6,3.4 L14,3.6 L6,3.6 L5.4,3.4 L4.8,2.9 L4.3,2.1 L4,1.1 L3.9,0 L4,-1.1 L4.3,-2.1 L4.8,-2.9 L5.4,-3.4 L6,-3.6Z"/><ellipse class="k" cx="6" cy="0" rx="2.1" ry="3.6"/><path class="p" d="M6,-3.4 L6.6,-3.2 L7.2,-2.8 L7.6,-2 L7.9,-1.1 L8,0 L7.9,1.1 L7.6,2 L7.2,2.8 L6.6,3.2 L6,3.4 L0,3.4 L-0.6,3.2 L-1.2,2.8 L-1.6,2 L-1.9,1.1 L-2,0 L-1.9,-1.1 L-1.6,-2 L-1.2,-2.8 L-0.6,-3.2 L-0,-3.4Z"/><ellipse class="p" cx="0" cy="0" rx="2" ry="3.4"/></g>
<polyline class="l" points="380.3,445.4 387,445.4 394.9,431.9"/>
<g transform="translate(340.8 498.5) rotate(30)"><polygon class="g" points="-2.6,-3.2 1.5,-3.2 3.2,0 1.5,3.2 -2.6,3.2 -3.4,0"/><ellipse class="k" cx="-0.5" cy="0" rx="1" ry="1.6"/></g>
<g transform="translate(356.6 499.6) rotate(30)"><polygon class="g" points="-2.6,-3.2 1.5,-3.2 3.2,0 1.5,3.2 -2.6,3.2 -3.4,0"/><ellipse class="k" cx="-0.5" cy="0" rx="1" ry="1.6"/></g>
<polyline class="l" points="328.4,515.4 335.1,515.4 340.8,502"/>
<polyline class="l" points="335.1,515.4 355.4,503"/>
<g transform="translate(262 499) rotate(-30)"><path class="p" d="M9.5,-2.8 L10,-2.7 L10.4,-2.3 L10.8,-1.6 L11,-0.9 L11.1,0 L11,0.9 L10.8,1.6 L10.4,2.3 L10,2.7 L9.5,2.8 L6,2.8 L5.5,2.7 L5.1,2.3 L4.7,1.6 L4.5,0.9 L4.4,0 L4.5,-0.9 L4.7,-1.6 L5.1,-2.3 L5.5,-2.7 L6,-2.8Z"/><ellipse class="p" cx="9.5" cy="0" rx="1.6" ry="2.8"/><path class="k" d="M6,-3 L6.5,-2.9 L7,-2.4 L7.4,-1.8 L7.6,-0.9 L7.7,0 L7.6,0.9 L7.4,1.8 L7,2.4 L6.5,2.9 L6,3 L0,3 L-0.5,2.9 L-1,2.4 L-1.4,1.8 L-1.6,0.9 L-1.7,0 L-1.6,-0.9 L-1.4,-1.8 L-1,-2.4 L-0.5,-2.9 L-0,-3Z"/><ellipse class="k" cx="0" cy="0" rx="1.7" ry="3"/></g>
<polyline class="l" points="282.6,507.3 276.4,507.3 270.5,496"/>
<g transform="translate(494.2 503.5) rotate(28)"><path class="k" d="M37.5,-2.6 L38,-2.5 L38.4,-2.1 L38.7,-1.5 L38.9,-0.8 L39,0 L38.9,0.8 L38.7,1.5 L38.4,2.1 L38,2.5 L37.5,2.6 L33,2.6 L32.5,2.5 L32.1,2.1 L31.8,1.5 L31.6,0.8 L31.5,0 L31.6,-0.8 L31.8,-1.5 L32.1,-2.1 L32.5,-2.5 L33,-2.6Z"/><ellipse class="k" cx="33" cy="0" rx="1.5" ry="2.6"/><path class="p" d="M33,-3.6 L33.6,-3.4 L34.2,-2.9 L34.7,-2.1 L35,-1.1 L35.1,0 L35,1.1 L34.7,2.1 L34.2,2.9 L33.6,3.4 L33,3.6 L28,3.6 L27.4,3.4 L26.8,2.9 L26.3,2.1 L26,1.1 L25.9,0 L26,-1.1 L26.3,-2.1 L26.8,-2.9 L27.4,-3.4 L28,-3.6Z"/><ellipse class="p" cx="28" cy="0" rx="2.1" ry="3.6"/><path class="p" d="M28,-4.4 L28.8,-4.2 L29.5,-3.6 L30.1,-2.6 L30.4,-1.4 L30.5,0 L30.4,1.4 L30.1,2.6 L29.5,3.6 L28.8,4.2 L28,4.4 L20,4.4 L19.2,4.2 L18.5,3.6 L17.9,2.6 L17.6,1.4 L17.5,0 L17.6,-1.4 L17.9,-2.6 L18.5,-3.6 L19.2,-4.2 L20,-4.4Z"/><ellipse class="p" cx="20" cy="0" rx="2.5" ry="4.4"/><rect class="k" x="23" y="-4.4" width="1.6" height="8.8"/><path class="p" d="M20,-3.6 L20.6,-3.4 L21.2,-2.9 L21.7,-2.1 L22,-1.1 L22.1,0 L22,1.1 L21.7,2.1 L21.2,2.9 L20.6,3.4 L20,3.6 L10,3.6 L9.4,3.4 L8.8,2.9 L8.3,2.1 L8,1.1 L7.9,0 L8,-1.1 L8.3,-2.1 L8.8,-2.9 L9.4,-3.4 L10,-3.6Z"/><ellipse class="p" cx="10" cy="0" rx="2.1" ry="3.6"/><rect class="k" x="10" y="-3.6" width="4" height="7.2"/><path class="k" d="M10,-3.8 L10.7,-3.6 L11.3,-3.1 L11.8,-2.2 L12.1,-1.2 L12.2,0 L12.1,1.2 L11.8,2.2 L11.3,3.1 L10.7,3.6 L10,3.8 L0,3.8 L-0.7,3.6 L-1.3,3.1 L-1.8,2.2 L-2.1,1.2 L-2.2,0 L-2.1,-1.2 L-1.8,-2.2 L-1.3,-3.1 L-0.7,-3.6 L-0,-3.8Z"/><ellipse class="k" cx="0" cy="0" rx="2.2" ry="3.8"/></g>
<polyline class="l" points="528.9,498.4 523.8,498.4 517,511.1"/>
<polyline class="d" points="397,338 413.3,328.5 419.2,325.1"/>
<polyline class="d" points="396,348.6 537.6,266.5"/>
<polyline class="d" points="396,354.5 500.3,293.3"/>
<polyline class="d" points="396,368.5 566.2,269"/>
<polyline class="d" points="393,385.2 452,351.8"/>
<polyline class="d" points="393,396 427,376.4"/>
<polyline class="d" points="397,423 427.3,405.4"/>
<polyline class="d" points="455.3,449.3 436.7,459.5 436.7,386.5 395,408.5"/>
<g transform="translate(452 351.8) rotate(-30)"><path class="p" d="M11,-3.4 L11.6,-3.2 L12.2,-2.8 L12.6,-2 L12.9,-1.1 L13,0 L12.9,1.1 L12.6,2 L12.2,2.8 L11.6,3.2 L11,3.4 L0,3.4 L-0.6,3.2 L-1.2,2.8 L-1.6,2 L-1.9,1.1 L-2,0 L-1.9,-1.1 L-1.6,-2 L-1.2,-2.8 L-0.6,-3.2 L-0,-3.4Z"/><ellipse class="p" cx="0" cy="0" rx="2" ry="3.4"/><path class="p" d="M16.5,-5.6 L17.5,-5.3 L18.4,-4.5 L19.1,-3.3 L19.6,-1.7 L19.7,0 L19.6,1.7 L19.1,3.3 L18.4,4.5 L17.5,5.3 L16.5,5.6 L11,5.6 L10,5.3 L9.1,4.5 L8.4,3.3 L7.9,1.7 L7.8,0 L7.9,-1.7 L8.4,-3.3 L9.1,-4.5 L10,-5.3 L11,-5.6Z"/><rect class="k" x="12.5" y="-5.6" width="2" height="11.2"/><ellipse class="p" cx="16.5" cy="0" rx="3.2" ry="5.6"/><ellipse class="n" cx="16.5" cy="0" rx="1.8" ry="3.2"/></g>
<polyline class="l" points="470.8,363.3 464,363.3 459.1,353.4"/>
<g transform="translate(437.8 359) rotate(-30)"><polygon class="p" points="-2.6,-3.2 1.5,-3.2 3.2,0 1.5,3.2 -2.6,3.2 -3.4,0" style="stroke-width:1.5"/><ellipse class="p" cx="-0.8" cy="0" rx="1" ry="1.7"/></g>
<polyline class="l" points="459.1,383 452.9,383 439.5,361.5"/>
<g transform="translate(427 376.4) rotate(-30)"><path class="k" d="M10.5,-3 L11,-2.9 L11.5,-2.4 L11.9,-1.8 L12.1,-0.9 L12.2,0 L12.1,0.9 L11.9,1.8 L11.5,2.4 L11,2.9 L10.5,3 L2.5,3 L2,2.9 L1.5,2.4 L1.1,1.8 L0.9,0.9 L0.8,0 L0.9,-0.9 L1.1,-1.8 L1.5,-2.4 L2,-2.9 L2.5,-3Z"/><ellipse class="k" cx="2.5" cy="0" rx="1.7" ry="3"/><path class="p" d="M2.5,-2.8 L3,-2.7 L3.4,-2.3 L3.8,-1.6 L4,-0.9 L4.1,0 L4,0.9 L3.8,1.6 L3.4,2.3 L3,2.7 L2.5,2.8 L0,2.8 L-0.5,2.7 L-0.9,2.3 L-1.3,1.6 L-1.5,0.9 L-1.6,0 L-1.5,-0.9 L-1.3,-1.6 L-0.9,-2.3 L-0.5,-2.7 L-0,-2.8Z"/><ellipse class="p" cx="0" cy="0" rx="1.6" ry="2.8"/></g>
<polyline class="l" points="447.5,402.7 443,402.7 429.6,378.5"/>
<ellipse class="p" cx="0" cy="0" rx="1" ry="1.7" transform="translate(427.3 405.4) rotate(-30)" style="stroke-width:1.0"/>
<polyline class="l" points="436.8,425 428.8,425 428.8,407.5"/>
<g transform="translate(674.3 207.4) rotate(-30)"><path class="k" d="M9.5,-6.4 L10.6,-6.1 L11.7,-5.2 L12.5,-3.8 L13,-2 L13.2,0 L13,2 L12.5,3.8 L11.7,5.2 L10.6,6.1 L9.5,6.4 L6.5,6.4 L5.4,6.1 L4.3,5.2 L3.5,3.8 L3,2 L2.8,0 L3,-2 L3.5,-3.8 L4.3,-5.2 L5.4,-6.1 L6.5,-6.4Z"/><ellipse class="k" cx="6.5" cy="0" rx="3.7" ry="6.4"/><path class="p" d="M6.5,-6.2 L7.6,-5.9 L8.6,-5 L9.4,-3.6 L9.9,-1.9 L10.1,0 L9.9,1.9 L9.4,3.6 L8.6,5 L7.6,5.9 L6.5,6.2 L2.2,6.2 L1.1,5.9 L0.1,5 L-0.7,3.6 L-1.2,1.9 L-1.4,0 L-1.2,-1.9 L-0.7,-3.6 L0.1,-5 L1.1,-5.9 L2.2,-6.2Z"/><ellipse class="p" cx="2.2" cy="0" rx="3.6" ry="6.2"/><path class="n" d="M4.5,-6.2 L4.5,6.2" style="stroke-width:1.2"/><path class="p" d="M2.2,-5.2 L3.1,-4.9 L4,-4.2 L4.6,-3.1 L5.1,-1.6 L5.2,0 L5.1,1.6 L4.6,3.1 L4,4.2 L3.1,4.9 L2.2,5.2 L0,5.2 L-0.9,4.9 L-1.8,4.2 L-2.4,3.1 L-2.9,1.6 L-3,0 L-2.9,-1.6 L-2.4,-3.1 L-1.8,-4.2 L-0.9,-4.9 L-0,-5.2Z"/><ellipse class="p" cx="0" cy="0" rx="3" ry="5.2"/><ellipse class="n" cx="0" cy="0" rx="1.6" ry="2.8"/><ellipse class="n" cx="0" cy="0" rx="0.7" ry="1.2"/></g>
<polyline class="l" points="664.1,184.7 670.9,184.7 678.1,199.3"/>
<ellipse class="n" cx="0" cy="0" rx="2.9" ry="5" transform="translate(660.7 216.3) rotate(-30)" style="stroke-width:1.7"/>
<polyline class="l" points="641.6,197.5 648,197.5 656.9,212.9"/>
<polygon class="p" points="619.2,224.9 629.3,218.2 644.6,225.4 634.4,232.1"/>
<polygon class="g" points="634.4,232.1 644.6,225.4 644.6,238.7 634.4,245.7"/>
<polygon class="k" points="634.4,232.1 644.6,225.4 644.6,228.2 634.4,235.2"/>
<polygon class="p" points="619.2,224.9 634.4,232.1 634.4,245.7 619.5,237.2"/>
<ellipse class="p" cx="626.6" cy="234.7" rx="3.6" ry="4.6" style="stroke-width:1.3"/>
<ellipse class="n" cx="626.9" cy="235" rx="1.8" ry="2.4"/>
<polyline class="n" points="627,235.2 621,238.7"/>
<polygon class="p" points="635.7,234.2 645.8,228.3 656,235.9 645.8,241.8"/>
<polyline class="l" points="638.5,232.7 648.5,238.2"/>
<polyline class="l" points="641.5,230.9 651.5,236.7"/>
<polyline class="l" points="644.5,229.3 654,235.2"/>
<polygon class="p" points="645.8,241.8 656,235.9 656,244.4 645.8,250.7"/>
<polygon class="p" points="635.7,234.2 645.8,241.8 645.8,250.7 635.7,244.4"/>
<polyline class="l" points="635.7,244.4 645.8,250.7 656,244.4"/>
<circle class="k" cx="651" cy="243.7" r="1"/>
<polygon class="p" points="655.5,230.2 659.5,228.2 663,231.2 663,237.2 659,239.2 655.5,236.7"/>
<polyline class="l" points="655.5,230.2 659.5,228.2 663,231.2 663,237.2 659,239.2 655.5,236.7 655.5,230.2"/>
<polyline class="n" points="659.5,232.7 663,231.2"/>
<polyline class="l" points="617.9,210.6 625.8,210.6 630.3,218.5"/>
<ellipse class="n" cx="0" cy="0" rx="2.8" ry="4.8" transform="translate(614.8 242.8) rotate(-30)" style="stroke-width:1.7"/>
<polyline class="l" points="595.3,223.7 603.6,223.7 612.2,238"/>
<g transform="translate(565.4 269.5) rotate(-27.5)"><path class="k" d="M48.7,-4.5 L49.5,-4.3 L50.2,-3.6 L50.8,-2.6 L51.2,-1.4 L51.3,0 L51.2,1.4 L50.8,2.6 L50.2,3.6 L49.5,4.3 L48.7,4.5 L46.4,4.5 L45.6,4.3 L44.9,3.6 L44.3,2.6 L43.9,1.4 L43.8,0 L43.9,-1.4 L44.3,-2.6 L44.9,-3.6 L45.6,-4.3 L46.4,-4.5Z"/><ellipse class="k" cx="46.4" cy="0" rx="2.6" ry="4.5"/><path class="p" d="M46.4,-4.3 L47.2,-4.1 L47.9,-3.5 L48.4,-2.5 L48.8,-1.3 L48.9,0 L48.8,1.3 L48.4,2.5 L47.9,3.5 L47.2,4.1 L46.4,4.3 L30.8,4.3 L30,4.1 L29.3,3.5 L28.8,2.5 L28.4,1.3 L28.3,0 L28.4,-1.3 L28.8,-2.5 L29.3,-3.5 L30,-4.1 L30.8,-4.3Z"/><ellipse class="p" cx="30.8" cy="0" rx="2.5" ry="4.3"/><path class="n" d="M42,-4.3 L42,4.3 M43.5,-4.3 L43.5,4.3"/><path class="p" d="M30.8,-4.6 L31.6,-4.4 L32.4,-3.7 L32.9,-2.7 L33.3,-1.4 L33.5,0 L33.3,1.4 L32.9,2.7 L32.4,3.7 L31.6,4.4 L30.8,4.6 L27.4,4.6 L26.6,4.4 L25.8,3.7 L25.3,2.7 L24.9,1.4 L24.7,0 L24.9,-1.4 L25.3,-2.7 L25.8,-3.7 L26.6,-4.4 L27.4,-4.6Z"/><ellipse class="p" cx="27.4" cy="0" rx="2.7" ry="4.6"/><rect class="k" x="28.3" y="-4.6" width="1.2" height="9.2"/><path class="p" d="M27.4,-6 L28.5,-5.7 L29.4,-4.9 L30.2,-3.5 L30.7,-1.9 L30.9,0 L30.7,1.9 L30.2,3.5 L29.4,4.9 L28.5,5.7 L27.4,6 L14.5,6 L13.4,5.7 L12.5,4.9 L11.7,3.5 L11.2,1.9 L11,0 L11.2,-1.9 L11.7,-3.5 L12.5,-4.9 L13.4,-5.7 L14.5,-6Z"/><ellipse class="p" cx="14.5" cy="0" rx="3.5" ry="6"/><path class="n" d="M14.5,-2 L27.4,-2 M14.5,2.5 L27.4,2.5"/><path class="k" d="M14.5,-5.2 L15.4,-4.9 L16.3,-4.2 L16.9,-3.1 L17.4,-1.6 L17.5,0 L17.4,1.6 L16.9,3.1 L16.3,4.2 L15.4,4.9 L14.5,5.2 L10.6,5.2 L9.7,4.9 L8.8,4.2 L8.2,3.1 L7.7,1.6 L7.6,0 L7.7,-1.6 L8.2,-3.1 L8.8,-4.2 L9.7,-4.9 L10.6,-5.2Z"/><ellipse class="k" cx="10.6" cy="0" rx="3" ry="5.2"/><path class="k" d="M10.6,-4.5 L11.4,-4.3 L12.1,-3.6 L12.7,-2.6 L13.1,-1.4 L13.2,0 L13.1,1.4 L12.7,2.6 L12.1,3.6 L11.4,4.3 L10.6,4.5 L8.5,4.5 L7.7,4.3 L7,3.6 L6.4,2.6 L6,1.4 L5.9,0 L6,-1.4 L6.4,-2.6 L7,-3.6 L7.7,-4.3 L8.5,-4.5Z"/><ellipse class="k" cx="8.5" cy="0" rx="2.6" ry="4.5"/><path class="p" d="M8.5,-4.2 L9.2,-4 L9.9,-3.4 L10.5,-2.5 L10.8,-1.3 L10.9,0 L10.8,1.3 L10.5,2.5 L9.9,3.4 L9.2,4 L8.5,4.2 L6.3,4.2 L5.6,4 L4.9,3.4 L4.3,2.5 L4,1.3 L3.9,0 L4,-1.3 L4.3,-2.5 L4.9,-3.4 L5.6,-4 L6.3,-4.2Z"/><ellipse class="p" cx="6.3" cy="0" rx="2.4" ry="4.2"/><path class="k" d="M6.3,-4 L7,-3.8 L7.7,-3.2 L8.2,-2.4 L8.5,-1.2 L8.6,0 L8.5,1.2 L8.2,2.4 L7.7,3.2 L7,3.8 L6.3,4 L3.4,4 L2.7,3.8 L2,3.2 L1.5,2.4 L1.2,1.2 L1.1,0 L1.2,-1.2 L1.5,-2.4 L2,-3.2 L2.7,-3.8 L3.4,-4Z"/><ellipse class="k" cx="3.4" cy="0" rx="2.3" ry="4"/><path class="p" d="M3.4,-3 L3.9,-2.9 L4.4,-2.4 L4.8,-1.8 L5,-0.9 L5.1,0 L5,0.9 L4.8,1.8 L4.4,2.4 L3.9,2.9 L3.4,3 L0,3 L-0.5,2.9 L-1,2.4 L-1.4,1.8 L-1.6,0.9 L-1.7,0 L-1.6,-0.9 L-1.4,-1.8 L-1,-2.4 L-0.5,-2.9 L-0,-3Z"/><ellipse class="p" cx="0" cy="0" rx="1.7" ry="3"/></g>
<polyline class="l" points="573.3,236.9 580.2,236.9 588.1,252.2"/>
<g transform="translate(434 241.1) rotate(30)"><path class="k" d="M0,-7.2 L1.3,-6.8 L2.4,-5.8 L3.4,-4.2 L4,-2.2 L4.2,0 L4,2.2 L3.4,4.2 L2.4,5.8 L1.3,6.8 L0,7.2 L-7.5,7.2 L-8.8,6.8 L-9.9,5.8 L-10.9,4.2 L-11.5,2.2 L-11.7,0 L-11.5,-2.2 L-10.9,-4.2 L-9.9,-5.8 L-8.8,-6.8 L-7.5,-7.2Z"/><path d="M-8.9,-5.2 L-1.2,-5.2 M-9.9,-2.6 L-1.2,-2.6 M-10.2,0 L-1.2,0 M-9.9,2.6 L-1.2,2.6 M-8.9,5.2 L-1.2,5.2" stroke="#fff" stroke-width="1.3" fill="none"/><ellipse class="p" cx="0" cy="0" rx="4.2" ry="7.2" style="stroke-width:1.8"/><ellipse class="p" cx="0.3" cy="0" rx="2.6" ry="4.5" style="stroke-width:1.2"/><rect x="1" y="-2.2" width="4" height="4.4" fill="#fff"/></g>
<polyline class="l" points="405.6,261 416.3,261 424.1,247.5"/>
<ellipse class="n" cx="0" cy="0" rx="4.3" ry="7.4" transform="translate(449.7 252.1) rotate(30)" style="stroke-width:2.8"/>
<ellipse fill="none" stroke="#aaa" cx="0" cy="0" rx="4.3" ry="7.4" transform="translate(449.7 252.1) rotate(30)" style="stroke-width:0.9"/>
<polyline class="l" points="432.6,273.9 438.9,273.9 447.4,259.5"/>
<g transform="translate(477.9 268.2) rotate(30)"><path class="p" d="M0,-10 L1.8,-9.5 L3.4,-8.1 L4.7,-5.9 L5.5,-3.1 L5.8,0 L5.5,3.1 L4.7,5.9 L3.4,8.1 L1.8,9.5 L0,10 L-17,10 L-18.8,9.5 L-20.4,8.1 L-21.7,5.9 L-22.5,3.1 L-22.8,0 L-22.5,-3.1 L-21.7,-5.9 L-20.4,-8.1 L-18.8,-9.5 L-17,-10Z"/><ellipse class="p" cx="0" cy="0" rx="5.8" ry="10"/><ellipse class="n" cx="0" cy="0" rx="5" ry="8.6"/><ellipse class="k" cx="0.4" cy="0" rx="3" ry="5.2"/><path class="p" d="M6,-2.4 L6.4,-2.3 L6.8,-1.9 L7.1,-1.4 L7.3,-0.7 L7.4,0 L7.3,0.7 L7.1,1.4 L6.8,1.9 L6.4,2.3 L6,2.4 L0,2.4 L-0.4,2.3 L-0.8,1.9 L-1.1,1.4 L-1.3,0.7 L-1.4,0 L-1.3,-0.7 L-1.1,-1.4 L-0.8,-1.9 L-0.4,-2.3 L-0,-2.4Z"/><ellipse class="p" cx="6" cy="0" rx="1.4" ry="2.4"/><rect class="k" x="2" y="-2.6" width="1.5" height="5.2"/></g>
<polygon class="p" points="473.9,252.2 482.9,248.2 491.4,253.2 491.6,263.2 485.9,267.5 485.4,258.7"/>
<polygon class="k" points="473.9,252.2 485.4,258.7 485.9,260.7 473.9,254.2"/>
<polyline class="n" points="485.4,258.7 491.4,253.2"/>
<polyline class="l" points="456.5,286.3 462.2,286.3 468.5,275.7"/>
<g transform="translate(537.8 266.1) rotate(-29)"><path class="p" d="M21,-1.3 L21.2,-1.2 L21.4,-1.1 L21.6,-0.8 L21.7,-0.4 L21.8,0 L21.7,0.4 L21.6,0.8 L21.4,1.1 L21.2,1.2 L21,1.3 L0,1.3 L-0.2,1.2 L-0.4,1.1 L-0.6,0.8 L-0.7,0.4 L-0.8,0 L-0.7,-0.4 L-0.6,-0.8 L-0.4,-1.1 L-0.2,-1.2 L-0,-1.3Z"/><ellipse class="p" cx="0" cy="0" rx="0.8" ry="1.3"/><path class="n" d="M3,-1.3 L18,-1.3 M3,0 L18,0"/><path class="p" d="M23.3,-2 L23.7,-1.9 L24,-1.6 L24.2,-1.2 L24.4,-0.6 L24.5,0 L24.4,0.6 L24.2,1.2 L24,1.6 L23.7,1.9 L23.3,2 L21,2 L20.6,1.9 L20.3,1.6 L20.1,1.2 L19.9,0.6 L19.8,0 L19.9,-0.6 L20.1,-1.2 L20.3,-1.6 L20.6,-1.9 L21,-2Z"/><ellipse class="p" cx="23.3" cy="0" rx="1.2" ry="2"/></g>
<polyline class="l" points="534.4,230.7 542.9,230.7 555.5,254.1"/>
<polygon class="p" points="499.7,280.2 514.6,272.7 537.1,285.4 521.6,293.6"/>
<polygon class="p" points="499.7,280.2 521.6,293.6 521.6,310.5 499.7,296.4"/>
<polygon class="p" points="521.6,293.6 537.1,285.4 537.1,300 521.6,310.5"/>
<polyline class="l" points="499.7,296.4 499.7,280.2 514.6,272.7 537.1,285.4 537.1,300 521.6,310.5 499.7,296.4"/>
<ellipse class="p" cx="0" cy="0" rx="3.6" ry="6.2" transform="translate(528.9 297.6) rotate(30)" style="stroke-width:1.9"/>
<rect x="530.5" y="297" width="3.5" height="3" fill="#fff" transform="rotate(30 530.5 297)"/><polygon class="k" points="508,285 511,283.5 515,286 512,287.5"/>
<polygon class="k" points="513,288 517,286 519.5,288.5 516,290.5"/>
<rect class="k" x="510" y="283" width="1.5" height="4"/>
<ellipse class="p" cx="0" cy="0" rx="2" ry="3.4" transform="translate(510.5 297.5) rotate(-30)" style="stroke-width:1.6"/>
<polyline class="n" points="510.5,297.5 506,295"/>
<polygon class="k" points="508,299 511,300.5 510,304 507,302"/>
<circle class="k" cx="503" cy="289" r="0.9"/>
<circle class="k" cx="517" cy="305" r="1"/>
<circle class="k" cx="518" cy="296" r="1"/>
<circle class="k" cx="514.5" cy="290.5" r="0.8"/>
<polyline class="l" points="510.3,244.9 517.4,244.9 517.4,273.1"/>
<ellipse class="n" cx="0" cy="0" rx="0.9" ry="1.5" transform="translate(494.3 299.3) rotate(30)" style="stroke-width:1.2"/>
<polyline class="l" points="489.7,332 496.5,332 496.5,300.7"/>
<g transform="translate(563 318.1) rotate(30)"><path class="p" d="M0,-10 L1.8,-9.5 L3.4,-8.1 L4.7,-5.9 L5.5,-3.1 L5.8,0 L5.5,3.1 L4.7,5.9 L3.4,8.1 L1.8,9.5 L0,10 L-17,10 L-18.8,9.5 L-20.4,8.1 L-21.7,5.9 L-22.5,3.1 L-22.8,0 L-22.5,-3.1 L-21.7,-5.9 L-20.4,-8.1 L-18.8,-9.5 L-17,-10Z"/><ellipse class="p" cx="0" cy="0" rx="5.8" ry="10"/><ellipse class="n" cx="0" cy="0" rx="5" ry="8.6"/><ellipse class="k" cx="0.4" cy="0" rx="3" ry="5.2"/><ellipse class="p" cx="0.4" cy="0" rx="1.8" ry="3"/><path class="k" d="M-17,-2.4 L-16.6,-2.3 L-16.2,-1.9 L-15.9,-1.4 L-15.7,-0.7 L-15.6,0 L-15.7,0.7 L-15.9,1.4 L-16.2,1.9 L-16.6,2.3 L-17,2.4 L-23,2.4 L-23.4,2.3 L-23.8,1.9 L-24.1,1.4 L-24.3,0.7 L-24.4,0 L-24.3,-0.7 L-24.1,-1.4 L-23.8,-1.9 L-23.4,-2.3 L-23,-2.4Z"/></g>
<polygon class="p" points="559,302.1 568,298.1 576.5,303.1 576.7,313.1 571,317.4 570.5,308.6"/>
<polygon class="k" points="559,302.1 570.5,308.6 571,310.6 559,304.1"/>
<polyline class="n" points="570.5,308.6 576.5,303.1"/>
<polyline class="l" points="535.5,333 541.2,333 547.5,321.7"/>
<ellipse class="n" cx="0" cy="0" rx="4.3" ry="7.4" transform="translate(578.5 325.9) rotate(30)" style="stroke-width:2.8"/>
<ellipse fill="none" stroke="#aaa" cx="0" cy="0" rx="4.3" ry="7.4" transform="translate(578.5 325.9) rotate(30)" style="stroke-width:0.9"/>
<polyline class="l" points="558.1,346.4 565.1,346.4 572.9,331.5"/>
<g transform="translate(599 337.9) rotate(30)"><path class="k" d="M0,-7.4 L1.3,-7 L2.5,-6 L3.5,-4.3 L4.1,-2.3 L4.3,0 L4.1,2.3 L3.5,4.3 L2.5,6 L1.3,7 L0,7.4 L-8.5,7.4 L-9.8,7 L-11,6 L-12,4.3 L-12.6,2.3 L-12.8,0 L-12.6,-2.3 L-12,-4.3 L-11,-6 L-9.8,-7 L-8.5,-7.4Z"/><path d="M-10,-5.3 L-1.2,-5.3 M-11,-2.7 L-1.2,-2.7 M-11.3,0 L-1.2,0 M-11,2.7 L-1.2,2.7 M-10,5.3 L-1.2,5.3" stroke="#fff" stroke-width="1.3" fill="none"/><ellipse class="p" cx="0" cy="0" rx="4.3" ry="7.4" style="stroke-width:1.3"/><circle class="k" cx="0" cy="0" r="0.8"/></g>
<polyline class="l" points="580.6,359 589.1,359 594.8,344.9"/>
<g transform="translate(455.5 448.8) rotate(-29)"><path class="k" d="M48.7,-4.5 L49.5,-4.3 L50.2,-3.6 L50.8,-2.6 L51.2,-1.4 L51.3,0 L51.2,1.4 L50.8,2.6 L50.2,3.6 L49.5,4.3 L48.7,4.5 L46.4,4.5 L45.6,4.3 L44.9,3.6 L44.3,2.6 L43.9,1.4 L43.8,0 L43.9,-1.4 L44.3,-2.6 L44.9,-3.6 L45.6,-4.3 L46.4,-4.5Z"/><ellipse class="k" cx="46.4" cy="0" rx="2.6" ry="4.5"/><path class="p" d="M46.4,-4.3 L47.2,-4.1 L47.9,-3.5 L48.4,-2.5 L48.8,-1.3 L48.9,0 L48.8,1.3 L48.4,2.5 L47.9,3.5 L47.2,4.1 L46.4,4.3 L30.8,4.3 L30,4.1 L29.3,3.5 L28.8,2.5 L28.4,1.3 L28.3,0 L28.4,-1.3 L28.8,-2.5 L29.3,-3.5 L30,-4.1 L30.8,-4.3Z"/><ellipse class="p" cx="30.8" cy="0" rx="2.5" ry="4.3"/><path class="n" d="M42,-4.3 L42,4.3 M43.5,-4.3 L43.5,4.3"/><path class="p" d="M30.8,-4.6 L31.6,-4.4 L32.4,-3.7 L32.9,-2.7 L33.3,-1.4 L33.5,0 L33.3,1.4 L32.9,2.7 L32.4,3.7 L31.6,4.4 L30.8,4.6 L27.4,4.6 L26.6,4.4 L25.8,3.7 L25.3,2.7 L24.9,1.4 L24.7,0 L24.9,-1.4 L25.3,-2.7 L25.8,-3.7 L26.6,-4.4 L27.4,-4.6Z"/><ellipse class="p" cx="27.4" cy="0" rx="2.7" ry="4.6"/><rect class="k" x="28.3" y="-4.6" width="1.2" height="9.2"/><path class="p" d="M27.4,-6 L28.5,-5.7 L29.4,-4.9 L30.2,-3.5 L30.7,-1.9 L30.9,0 L30.7,1.9 L30.2,3.5 L29.4,4.9 L28.5,5.7 L27.4,6 L14.5,6 L13.4,5.7 L12.5,4.9 L11.7,3.5 L11.2,1.9 L11,0 L11.2,-1.9 L11.7,-3.5 L12.5,-4.9 L13.4,-5.7 L14.5,-6Z"/><ellipse class="p" cx="14.5" cy="0" rx="3.5" ry="6"/><path class="n" d="M14.5,-2 L27.4,-2 M14.5,2.5 L27.4,2.5"/><path class="k" d="M14.5,-5.2 L15.4,-4.9 L16.3,-4.2 L16.9,-3.1 L17.4,-1.6 L17.5,0 L17.4,1.6 L16.9,3.1 L16.3,4.2 L15.4,4.9 L14.5,5.2 L10.6,5.2 L9.7,4.9 L8.8,4.2 L8.2,3.1 L7.7,1.6 L7.6,0 L7.7,-1.6 L8.2,-3.1 L8.8,-4.2 L9.7,-4.9 L10.6,-5.2Z"/><ellipse class="k" cx="10.6" cy="0" rx="3" ry="5.2"/><path class="k" d="M10.6,-4.5 L11.4,-4.3 L12.1,-3.6 L12.7,-2.6 L13.1,-1.4 L13.2,0 L13.1,1.4 L12.7,2.6 L12.1,3.6 L11.4,4.3 L10.6,4.5 L8.5,4.5 L7.7,4.3 L7,3.6 L6.4,2.6 L6,1.4 L5.9,0 L6,-1.4 L6.4,-2.6 L7,-3.6 L7.7,-4.3 L8.5,-4.5Z"/><ellipse class="k" cx="8.5" cy="0" rx="2.6" ry="4.5"/><path class="p" d="M8.5,-4.2 L9.2,-4 L9.9,-3.4 L10.5,-2.5 L10.8,-1.3 L10.9,0 L10.8,1.3 L10.5,2.5 L9.9,3.4 L9.2,4 L8.5,4.2 L6.3,4.2 L5.6,4 L4.9,3.4 L4.3,2.5 L4,1.3 L3.9,0 L4,-1.3 L4.3,-2.5 L4.9,-3.4 L5.6,-4 L6.3,-4.2Z"/><ellipse class="p" cx="6.3" cy="0" rx="2.4" ry="4.2"/><path class="k" d="M6.3,-4 L7,-3.8 L7.7,-3.2 L8.2,-2.4 L8.5,-1.2 L8.6,0 L8.5,1.2 L8.2,2.4 L7.7,3.2 L7,3.8 L6.3,4 L3.4,4 L2.7,3.8 L2,3.2 L1.5,2.4 L1.2,1.2 L1.1,0 L1.2,-1.2 L1.5,-2.4 L2,-3.2 L2.7,-3.8 L3.4,-4Z"/><ellipse class="k" cx="3.4" cy="0" rx="2.3" ry="4"/><path class="p" d="M3.4,-3 L3.9,-2.9 L4.4,-2.4 L4.8,-1.8 L5,-0.9 L5.1,0 L5,0.9 L4.8,1.8 L4.4,2.4 L3.9,2.9 L3.4,3 L0,3 L-0.5,2.9 L-1,2.4 L-1.4,1.8 L-1.6,0.9 L-1.7,0 L-1.6,-0.9 L-1.4,-1.8 L-1,-2.4 L-0.5,-2.9 L-0,-3Z"/><ellipse class="p" cx="0" cy="0" rx="1.7" ry="3"/></g>
<polyline class="l" points="502.9,458.9 496.5,458.9 483.8,437.7"/>
<ellipse class="n" cx="0" cy="0" rx="2.8" ry="4.8" transform="translate(503.9 421.8) rotate(-30)" style="stroke-width:1.7"/>
<polyline class="l" points="525.1,446.2 518.8,446.2 506.1,426.1"/>
<polygon class="p" points="509.4,403.4 519.5,396.7 534.8,403.9 524.6,410.6"/>
<polygon class="g" points="524.6,410.6 534.8,403.9 534.8,417.2 524.6,424.2"/>
<polygon class="k" points="524.6,410.6 534.8,403.9 534.8,406.7 524.6,413.7"/>
<polygon class="p" points="509.4,403.4 524.6,410.6 524.6,424.2 509.7,415.7"/>
<ellipse class="p" cx="516.8" cy="413.2" rx="3.6" ry="4.6" style="stroke-width:1.3"/>
<ellipse class="n" cx="517.1" cy="413.5" rx="1.8" ry="2.4"/>
<polyline class="n" points="517.2,413.7 511.2,417.2"/>
<polygon class="p" points="525.9,412.7 536,406.8 546.2,414.4 536,420.3"/>
<polyline class="l" points="528.7,411.2 538.7,416.7"/>
<polyline class="l" points="531.7,409.4 541.7,415.2"/>
<polyline class="l" points="534.7,407.8 544.2,413.7"/>
<polygon class="p" points="536,420.3 546.2,414.4 546.2,422.9 536,429.2"/>
<polygon class="p" points="525.9,412.7 536,420.3 536,429.2 525.9,422.9"/>
<polyline class="l" points="525.9,422.9 536,429.2 546.2,422.9"/>
<circle class="k" cx="541.2" cy="422.2" r="1"/>
<polygon class="p" points="545.7,408.7 549.7,406.7 553.2,409.7 553.2,415.7 549.2,417.7 545.7,415.2"/>
<polyline class="l" points="545.7,408.7 549.7,406.7 553.2,409.7 553.2,415.7 549.2,417.7 545.7,415.2 545.7,408.7"/>
<polyline class="n" points="549.7,411.2 553.2,409.7"/>
<polyline class="l" points="549.4,433 542,433 538.9,427.1"/>
<ellipse class="n" cx="0" cy="0" rx="2.8" ry="4.8" transform="translate(550.5 394.3) rotate(-30)" style="stroke-width:1.7"/>
<polyline class="l" points="572.3,420.8 565.9,420.8 553.7,398.6"/>
<g transform="translate(569 383) rotate(-30)"><path class="k" d="M9.5,-6.4 L10.6,-6.1 L11.7,-5.2 L12.5,-3.8 L13,-2 L13.2,0 L13,2 L12.5,3.8 L11.7,5.2 L10.6,6.1 L9.5,6.4 L6.5,6.4 L5.4,6.1 L4.3,5.2 L3.5,3.8 L3,2 L2.8,0 L3,-2 L3.5,-3.8 L4.3,-5.2 L5.4,-6.1 L6.5,-6.4Z"/><ellipse class="k" cx="6.5" cy="0" rx="3.7" ry="6.4"/><path class="p" d="M6.5,-6.2 L7.6,-5.9 L8.6,-5 L9.4,-3.6 L9.9,-1.9 L10.1,0 L9.9,1.9 L9.4,3.6 L8.6,5 L7.6,5.9 L6.5,6.2 L2.2,6.2 L1.1,5.9 L0.1,5 L-0.7,3.6 L-1.2,1.9 L-1.4,0 L-1.2,-1.9 L-0.7,-3.6 L0.1,-5 L1.1,-5.9 L2.2,-6.2Z"/><ellipse class="p" cx="2.2" cy="0" rx="3.6" ry="6.2"/><path class="n" d="M4.5,-6.2 L4.5,6.2" style="stroke-width:1.2"/><path class="p" d="M2.2,-5.2 L3.1,-4.9 L4,-4.2 L4.6,-3.1 L5.1,-1.6 L5.2,0 L5.1,1.6 L4.6,3.1 L4,4.2 L3.1,4.9 L2.2,5.2 L0,5.2 L-0.9,4.9 L-1.8,4.2 L-2.4,3.1 L-2.9,1.6 L-3,0 L-2.9,-1.6 L-2.4,-3.1 L-1.8,-4.2 L-0.9,-4.9 L-0,-5.2Z"/><ellipse class="p" cx="0" cy="0" rx="3" ry="5.2"/><ellipse class="n" cx="0" cy="0" rx="1.6" ry="2.8"/><ellipse class="n" cx="0" cy="0" rx="0.7" ry="1.2"/></g>
<polyline class="l" points="596,407 590.5,407 577,389"/>
<polyline class="l" points="356.8,222.2 364,221.5 375,225.6"/>
<polyline class="l" points="576.7,173.7 585,173 596.4,177.4"/>
<polyline class="l" points="394.3,308.5 400.5,308.5 423.8,348.7"/>
<polyline class="l" points="327.6,347.5 321.8,347.5 314.3,359.2"/>
<polygon class="p" points="260.4,573.8 301.9,550.4 343.4,573.8 301.9,598.3"/>
<polyline class="l" points="260.4,573.8 301.9,550.4 343.4,573.8 301.9,598.3 260.4,573.8"/>
<ellipse class="k" cx="272.4" cy="573.8" rx="2.1" ry="1.6"/>
<ellipse class="p" cx="278.4" cy="570.7" rx="2.1" ry="1.6" style="stroke-width:1.3"/>
<ellipse class="p" cx="283.1" cy="566.4" rx="2.1" ry="1.6" style="stroke-width:1.3"/>
<ellipse class="k" cx="289.2" cy="569.1" rx="1.8" ry="1.4"/>
<ellipse class="k" cx="294.5" cy="580.5" rx="1.9" ry="1.4"/>
<ellipse class="k" cx="301.9" cy="555" rx="1.2" ry="0.9"/>
<ellipse class="k" cx="303.5" cy="561.1" rx="1.9" ry="1.4"/>
<ellipse class="p" cx="307.9" cy="567.8" rx="2.3" ry="1.8" style="stroke-width:1.3"/>
<ellipse class="k" cx="306.6" cy="574.2" rx="0.9" ry="0.7"/>
<ellipse class="k" cx="314.6" cy="573.1" rx="1.8" ry="1.4"/>
<path class="n" d="M310,578.5 Q312.5,583 315,578.5" style="stroke-width:1.1"/>
<polygon class="p" points="283.8,630.3 285.1,625.2 299.5,616.3 307.9,615.9 315.5,618.5 323.1,622.7 331.6,628.2 320.6,637.9 311.7,643.4"/>
<polygon class="p" points="283.8,630.3 311.7,643.4 311.7,659.9 283.8,645"/>
<polygon class="p" points="311.7,643.4 320.6,637.9 320.6,655.5 311.7,659.9"/>
<polygon class="p" points="320.6,637.9 322.5,624.5 329,621.5 334.5,624.5 337.3,630.5 337.3,641 331,646 324.5,648.5 320.6,649"/>
<polyline class="n" points="322.5,637 336.5,629.5"/>
<polyline class="n" points="323.5,645 336.5,638"/>
<polyline class="n" points="323.1,622.7 325,630 320.6,637.9"/>
<polyline class="n" points="331.6,628.2 334,633 334.1,642.1"/>
<polyline class="l" points="283.8,630.3 283.8,645 311.7,659.9 320.6,655.5 320.6,649 324.5,648.5 331,646 337.3,641 337.3,630.5 334.5,624.5 329,621.5 322.5,624.5 315.5,618.5 307.9,615.9 299.5,616.3 285.1,625.2 283.8,630.3"/>
<path class="n" d="M288,629 Q293,625 298,627 Q303,624 305,627 L308,625 Q312,622 315,625 Q318,629 314,632 Q317,636 312,639" style="stroke-width:1.7"/>
<path class="n" d="M301,633 Q304,630 308,632 Q311,635 309,638 Q305,640 302,637Z" style="stroke-width:1.3"/>
<path class="n" d="M306,621 Q310,618 313,621 Q314,624 311,625 Q307,625 306,621Z" style="stroke-width:1.3"/>
<path class="n" d="M316,626 Q320,624 322,628 Q320,632 317,633" style="stroke-width:1.3"/>
<ellipse class="p" cx="302" cy="618" rx="2.2" ry="1.3"/>
<ellipse class="p" cx="289" cy="627" rx="1.8" ry="1.1"/>
<ellipse class="p" cx="0" cy="0" rx="2" ry="3.4" transform="translate(291 640.5) rotate(-30)" style="stroke-width:1.2"/>
<polyline class="n" points="291,640.5 285,644"/>
<ellipse class="p" cx="0" cy="0" rx="3.3" ry="5.8" transform="translate(304.5 648.9) rotate(-30)" style="stroke-width:1.1"/>
<ellipse class="p" cx="0" cy="0" rx="2.3" ry="4" transform="translate(304.9 649.3) rotate(-30)" style="stroke-width:1.4"/>
<ellipse class="n" cx="0" cy="0" rx="1.2" ry="2" transform="translate(305.2 649.5) rotate(-30)"/>
<circle class="k" cx="297.5" cy="643.5" r="0.9"/>
<circle class="k" cx="297.5" cy="651.5" r="0.9"/>
<circle class="k" cx="310" cy="657" r="0.9"/>
<circle class="k" cx="286" cy="632" r="0.9"/>
<polyline class="d" points="289.6,569 289.6,680"/>
<polyline class="d" points="312.3,576 312.3,640"/>
<g transform="translate(244.9 669) rotate(-29.5)"><path class="k" d="M30.5,-6.5 L31.7,-6.2 L32.7,-5.3 L33.5,-3.8 L34.1,-2 L34.3,0 L34.1,2 L33.5,3.8 L32.7,5.3 L31.7,6.2 L30.5,6.5 L27.5,6.5 L26.3,6.2 L25.3,5.3 L24.5,3.8 L23.9,2 L23.7,0 L23.9,-2 L24.5,-3.8 L25.3,-5.3 L26.3,-6.2 L27.5,-6.5Z"/><ellipse class="k" cx="27.5" cy="0" rx="3.8" ry="6.5"/><ellipse class="p" cx="27.5" cy="0" rx="3" ry="5.2"/><path class="p" d="M27.5,-4.3 L28.3,-4.1 L29,-3.5 L29.5,-2.5 L29.9,-1.3 L30,0 L29.9,1.3 L29.5,2.5 L29,3.5 L28.3,4.1 L27.5,4.3 L0,4.3 L-0.8,4.1 L-1.5,3.5 L-2,2.5 L-2.4,1.3 L-2.5,0 L-2.4,-1.3 L-2,-2.5 L-1.5,-3.5 L-0.8,-4.1 L-0,-4.3Z"/><ellipse class="p" cx="0" cy="0" rx="2.5" ry="4.3"/><ellipse class="k" cx="0" cy="0" rx="1.5" ry="2.6"/><ellipse class="p" cx="0" cy="0" rx="0.7" ry="1.2"/></g>
<polyline class="l" points="240.4,644.2 250.6,644.2 255.1,656.6"/>
<polygon class="p" points="211.6,671 240.3,686.6 239.7,702.2 211,686"/>
<polyline class="n" points="213,673 239,687.5"/>
<polyline class="n" points="213,673 212.5,686.5"/>
<g transform="translate(217.5 684.2) rotate(-30)"><ellipse class="p" rx="3.6" ry="6" style="stroke-width:1.3"/></g>
<g transform="translate(231.9 691.4) rotate(-30)"><ellipse class="p" rx="4" ry="6.4" style="stroke-width:1.3"/></g>
<polygon class="k" points="222,683 225.5,687 223,693 225,696 221.5,692 224,687.5"/>
<polygon class="k" points="213.5,676 216,677 214,679"/>
<polygon class="k" points="236,688 238.5,689.5 238,692"/>
<polygon class="k" points="214,689 216,691 213.5,691"/>
<polygon class="k" points="235,698 238.5,699.5 238,697"/>
<polyline class="l" points="197.5,658.4 206.6,658.4 212.2,672"/>
<g transform="translate(164.2 712.4) rotate(-30)"><path class="p" d="M27,-8.7 L28.6,-8.3 L30,-7 L31.1,-5.1 L31.8,-2.7 L32,0 L31.8,2.7 L31.1,5.1 L30,7 L28.6,8.3 L27,8.7 L9,8.7 L7.4,8.3 L6,7 L4.9,5.1 L4.2,2.7 L4,0 L4.2,-2.7 L4.9,-5.1 L6,-7 L7.4,-8.3 L9,-8.7Z"/><path class="k" d="M9,-6.8 L10.2,-6.5 L11.3,-5.5 L12.2,-4 L12.7,-2.1 L12.9,0 L12.7,2.1 L12.2,4 L11.3,5.5 L10.2,6.5 L9,6.8 L5,6.8 L3.8,6.5 L2.7,5.5 L1.8,4 L1.3,2.1 L1.1,0 L1.3,-2.1 L1.8,-4 L2.7,-5.5 L3.8,-6.5 L5,-6.8Z"/><ellipse class="k" cx="5" cy="0" rx="3.9" ry="6.8"/><path class="p" d="M5,-5.2 L5.9,-4.9 L6.8,-4.2 L7.4,-3.1 L7.9,-1.6 L8,0 L7.9,1.6 L7.4,3.1 L6.8,4.2 L5.9,4.9 L5,5.2 L0,5.2 L-0.9,4.9 L-1.8,4.2 L-2.4,3.1 L-2.9,1.6 L-3,0 L-2.9,-1.6 L-2.4,-3.1 L-1.8,-4.2 L-0.9,-4.9 L-0,-5.2Z"/><ellipse class="p" cx="0" cy="0" rx="3" ry="5.2"/></g>
<polygon class="p" points="178,711 185.5,707 188,712 186,718 180.5,721 178,716"/>
<polyline class="n" points="180.5,713 186,710"/>
<polyline class="l" points="162.4,683 168.4,683 176.2,696.8"/>
<rect class="p" x="287.6" y="679.5" width="3.9" height="21"/>
<path class="n" d="M287.6,681.5 L291.5,681.5 M287.6,683.5 L291.5,683.5 M287.6,685.5 L291.5,685.5 M287.6,687.5 L291.5,687.5" style="stroke-width:0.9"/>
<path class="p" d="M286,701.5 L286,704 Q289.6,708 293.2,704 L293.2,701.5" style="stroke-width:1.4"/>
<ellipse class="p" cx="289.6" cy="701.5" rx="3.6" ry="2.2" style="stroke-width:1.4"/>
<polyline class="l" points="309.5,704.1 303.7,704.1 291.7,697.5"/>
<!-- group bracket lines -->
<g class="l">
<polyline points="14.4,198.8 14.4,178.8 321.4,1.9 341,1.9"/>
<polyline points="418.3,106 418.3,89.7 525.5,28.5 544.4,28.5"/>
<polyline points="343.3,264.5 343.3,244.8 410.4,206.7 428.7,206.7"/>
<polyline points="543.4,223.7 543.4,207.6 650,146.9 669.8,146.9"/>
<polyline points="383.6,260.3 383.6,268.7 411.8,284.2 420.3,284.2"/>
<polyline points="531.7,345.7 531.7,354.8 558.8,370.4 569,370.4"/>
<polyline points="503,477.7 518.2,477.7 624.8,415.1 624.8,400.9"/>
<polyline points="4.8,511.7 4.8,496.2 112.8,434.7 131.2,434.7"/>
<polyline points="132.2,677 132.2,670 227.4,614.9 239.2,614.9"/>
</g>
<!-- boxes -->
<g>
<rect class="b" x="116.2" y="77.4" width="18.8" height="17.2"/><text class="t" x="125.8" y="90.2">1</text>
<rect class="b" x="440.9" y="35.8" width="19.1" height="17.1"/><text class="t" x="450.5" y="48.1">37</text>
<rect class="b" x="338.1" y="189.6" width="18.9" height="16.8"/><text class="t" x="347.6" y="202">16</text>
<rect class="b" x="558.6" y="141.1" width="18.5" height="16.7"/><text class="t" x="567.3" y="153.2">31</text>
<rect class="b" x="366.5" y="275.8" width="18.8" height="17.2"/><text class="t" x="376" y="287.6">19</text>
<rect class="b" x="514.2" y="361.4" width="19.4" height="16.8"/><text class="t" x="523.8" y="373.3">19</text>
<rect class="b" x="584.4" y="446.8" width="19.2" height="17.4"/><text class="t" x="593.9" y="459.3">26</text>
<rect class="b" x="27.2" y="442" width="19.5" height="17.5"/><text class="t" x="36.9" y="454.3">37</text>
<rect class="b" x="157" y="519.3" width="19.8" height="17.4"/><text class="t" x="166.9" y="532.3">43</text>
<rect class="b" x="195.5" y="513.8" width="19.6" height="17.4"/><text class="t" x="205.3" y="526.8">41</text>
<rect class="b" x="235.5" y="513.8" width="19.6" height="17.4"/><text class="t" x="245.3" y="526.8">41</text>
<rect class="b" x="148.3" y="618.8" width="19.8" height="17.4"/><text class="t" x="158" y="631.3">2</text>
<rect class="b" x="343.6" y="644.9" width="19" height="16.9"/><text class="t" x="352.9" y="657.2">4</text>
</g>
<!-- box leaders -->
<g class="l" style="stroke-width:1">
<polyline points="135,90 141,90 147.8,101.5"/>
<polyline points="460,48.7 465.3,48.7 471.6,58.9"/>
<polyline points="356.8,201.6 365.3,201.6 375,225.6"/>
<polyline points="577.1,153.5 582.8,153.5 596.5,177.7"/>
<polyline points="385.3,288.7 391,288.7 396.8,277.5"/>
<polyline points="533.6,374.1 539.1,374.1 545,363.2"/>
<polyline points="584.4,459.4 578.8,459.4 572.1,447.8 578.8,485.8 585.1,485.8"/>
<polyline points="46.7,454.9 51.7,454.9 58.4,465"/>
<polyline points="168.1,631.3 172.8,631.3 179.5,642.1"/>
<polyline points="343.6,657.3 338.2,657.3 331.4,645.6 337.8,683.7 343.9,683.7"/>
</g>
<!-- labels -->
<g>
<text class="t" x="537.4" y="60.6">40</text>
<text class="t" x="515" y="74">39</text>
<text class="t" x="492.5" y="86.6">36</text>
<text class="t" x="446.5" y="112.9">38</text>
<text class="t" x="653.4" y="184.8">35</text>
<text class="t" x="630.3" y="197.5">33</text>
<text class="t" x="607.7" y="210.7">25</text>
<text class="t" x="585.2" y="224.3">29</text>
<text class="t" x="522.5" y="232.2">24</text>
<text class="t" x="562" y="237.5">34</text>
<text class="t" x="500.4" y="245">23</text>
<text class="t" x="399.1" y="260">21</text>
<text class="t" x="421.7" y="274.1">20</text>
<text class="t" x="445.1" y="287.7">18</text>
<text class="t" x="478.2" y="331.8">22</text>
<text class="t" x="524.3" y="333.8">18</text>
<text class="t" x="547" y="346.3">20</text>
<text class="t" x="569" y="359.9">21</text>
<text class="t" x="482.3" y="363.3">13</text>
<text class="t" x="470.5" y="382.6">46</text>
<text class="t" x="459.6" y="402.8">12</text>
<text class="t" x="445.4" y="424.9">45</text>
<text class="t" x="604.5" y="407.2">30</text>
<text class="t" x="581.8" y="420.8">29</text>
<text class="t" x="558.8" y="433.3">36</text>
<text class="t" x="536.8" y="446.9">29</text>
<text class="t" x="513.1" y="459.7">28</text>
<text class="t" x="541.2" y="498.7">15</text>
<text class="t" x="386" y="308.4">9</text>
<text class="t" x="338.1" y="348.5">44</text>
<text class="t" x="369.6" y="445">11</text>
<text class="t" x="137.6" y="276">48</text>
<text class="t" x="202" y="267.6">10</text>
<text class="t" x="160.3" y="288.7">12</text>
<text class="t" x="86.6" y="337.6">13</text>
<text class="t" x="100.2" y="370.6">14</text>
<text class="t" x="171.6" y="440.1">46</text>
<text class="t" x="124.1" y="466.9">38</text>
<text class="t" x="79" y="493.1">36</text>
<text class="t" x="56.4" y="506.4">39</text>
<text class="t" x="33.3" y="519.9">40</text>
<text class="t" x="294.2" y="507.1">12</text>
<text class="t" x="317.2" y="515.3">46</text>
<text class="t" x="232.6" y="643.7">7</text>
<text class="t" x="190.4" y="658.4">6</text>
<text class="t" x="154.1" y="684.1">8</text>
<text class="t" x="318" y="704.2">3</text>
</g>
<!-- symbols -->
<circle cx="348.3" cy="219.2" r="4.9" fill="#111"/><ellipse cx="348.8" cy="219.6" rx="1.2" ry="0.9" fill="#555"/>
<polygon points="568.7,162 574.8,168.1 568.7,174.2 562.6,168.1" fill="#111"/><rect x="566.5" y="166.8" width="4.4" height="2.6" fill="#777"/>
<polygon points="593.9,477 599.4,486.4 588.4,486.4" fill="#111"/>
<circle cx="166.5" cy="554.5" r="4.6" fill="#fff" stroke="#333" stroke-width="1"/>
<rect x="200.3" y="543.8" width="9.4" height="9.3" fill="#e8eaf8" stroke="#333" stroke-width="1.1"/><path d="M202.5,545.5 L202.5,549.5 Q205,553 207.5,549.5 L207.5,545.5Z" fill="#a9b3e6"/>
<rect x="240.1" y="543.8" width="9.4" height="9.3" fill="#e8eaf8" stroke="#333" stroke-width="1.1"/><circle cx="244.8" cy="548.4" r="3.3" fill="#b0b0e6"/>
<rect x="348" y="674.7" width="9.9" height="9.4" fill="#111"/><text x="353" y="682.5" font-family="Liberation Sans" font-size="7" fill="#777" text-anchor="middle">8</text>

</svg>
</body></html>
